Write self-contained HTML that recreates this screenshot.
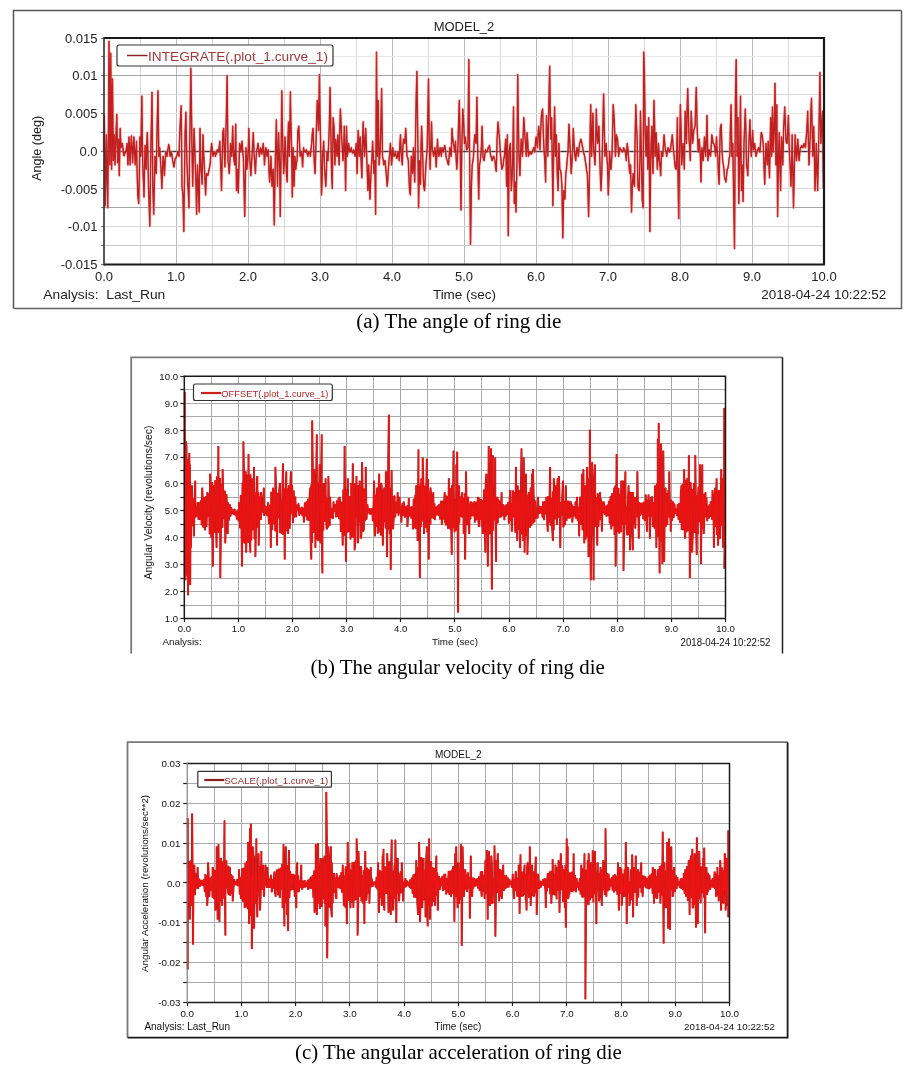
<!DOCTYPE html><html><head><meta charset="utf-8"><title>Ring die plots</title><style>html,body{margin:0;padding:0;background:#fff;width:916px;height:1081px;overflow:hidden}</style></head><body>
<svg width="916" height="1081" viewBox="0 0 916 1081" style="display:block">
<rect width="916" height="1081" fill="#fff"/>
<path d="M13.5,308.5 V10.5 H901.5" fill="none" stroke="#555" stroke-width="1.5"/>
<path d="M901.5,10.5 V308.5 H13.5" fill="none" stroke="#606060" stroke-width="1.5"/>
<line x1="140.5" y1="38" x2="140.5" y2="264.5" stroke="#d8d8d8" stroke-width="1"/>
<line x1="176.5" y1="38" x2="176.5" y2="264.5" stroke="#bcbcbc" stroke-width="1"/>
<line x1="212.5" y1="38" x2="212.5" y2="264.5" stroke="#d8d8d8" stroke-width="1"/>
<line x1="248.5" y1="38" x2="248.5" y2="264.5" stroke="#bcbcbc" stroke-width="1"/>
<line x1="284.5" y1="38" x2="284.5" y2="264.5" stroke="#d8d8d8" stroke-width="1"/>
<line x1="320.5" y1="38" x2="320.5" y2="264.5" stroke="#bcbcbc" stroke-width="1"/>
<line x1="356.5" y1="38" x2="356.5" y2="264.5" stroke="#d8d8d8" stroke-width="1"/>
<line x1="392.5" y1="38" x2="392.5" y2="264.5" stroke="#bcbcbc" stroke-width="1"/>
<line x1="428.5" y1="38" x2="428.5" y2="264.5" stroke="#d8d8d8" stroke-width="1"/>
<line x1="464.5" y1="38" x2="464.5" y2="264.5" stroke="#bcbcbc" stroke-width="1"/>
<line x1="500.5" y1="38" x2="500.5" y2="264.5" stroke="#d8d8d8" stroke-width="1"/>
<line x1="536.5" y1="38" x2="536.5" y2="264.5" stroke="#bcbcbc" stroke-width="1"/>
<line x1="572.5" y1="38" x2="572.5" y2="264.5" stroke="#d8d8d8" stroke-width="1"/>
<line x1="608.5" y1="38" x2="608.5" y2="264.5" stroke="#bcbcbc" stroke-width="1"/>
<line x1="644.5" y1="38" x2="644.5" y2="264.5" stroke="#d8d8d8" stroke-width="1"/>
<line x1="680.5" y1="38" x2="680.5" y2="264.5" stroke="#bcbcbc" stroke-width="1"/>
<line x1="716.5" y1="38" x2="716.5" y2="264.5" stroke="#d8d8d8" stroke-width="1"/>
<line x1="752.5" y1="38" x2="752.5" y2="264.5" stroke="#bcbcbc" stroke-width="1"/>
<line x1="788.5" y1="38" x2="788.5" y2="264.5" stroke="#d8d8d8" stroke-width="1"/>
<line x1="104" y1="245.5" x2="824" y2="245.5" stroke="#c8c8c8" stroke-width="1"/>
<line x1="104" y1="226.5" x2="824" y2="226.5" stroke="#d8d8d8" stroke-width="1"/>
<line x1="104" y1="207.5" x2="824" y2="207.5" stroke="#a4a4a4" stroke-width="1"/>
<line x1="104" y1="188.5" x2="824" y2="188.5" stroke="#dcdcdc" stroke-width="1"/>
<line x1="104" y1="170.5" x2="824" y2="170.5" stroke="#e4e4e4" stroke-width="1"/>
<line x1="104" y1="151.5" x2="824" y2="151.5" stroke="#888" stroke-width="1"/>
<line x1="104" y1="132.5" x2="824" y2="132.5" stroke="#e8e8e8" stroke-width="1"/>
<line x1="104" y1="113.5" x2="824" y2="113.5" stroke="#e4e4e4" stroke-width="1"/>
<line x1="104" y1="94.5" x2="824" y2="94.5" stroke="#d8d8d8" stroke-width="1"/>
<line x1="104" y1="75.5" x2="824" y2="75.5" stroke="#a4a4a4" stroke-width="1"/>
<line x1="104" y1="56.5" x2="824" y2="56.5" stroke="#e8e8e8" stroke-width="1"/>
<line x1="104" y1="151.5" x2="824" y2="151.5" stroke="#3a3a3a" stroke-width="1.3"/>
<path d="M103.9,152.0 L104.3,115.5 L105.2,205.7 L105.8,172.7 L106.4,134.8 L107.1,179.2 L107.7,207.8 L108.4,136.3 L109.0,41.4 L109.9,164.9 L110.7,53.2 L111.6,169.2 L112.5,79.0 L113.3,160.6 L114.2,134.8 L115.0,164.9 L115.9,136.9 L116.8,114.4 L117.6,162.7 L118.5,139.1 L119.3,175.6 L120.2,128.4 L121.0,147.7 L121.7,144.6 L122.3,143.4 L123.0,148.2 L123.6,155.2 L124.2,155.6 L124.8,152.3 L125.3,153.1 L125.9,151.3 L126.5,148.0 L127.1,143.4 L127.9,164.9 L128.5,150.6 L129.0,136.9 L129.5,149.1 L130.1,164.9 L130.7,148.3 L131.4,135.9 L132.0,147.1 L132.6,162.7 L133.3,149.4 L133.9,136.9 L134.6,150.9 L135.2,164.9 L135.9,153.5 L136.5,141.2 L137.2,175.7 L137.8,194.9 L138.7,203.5 L139.3,175.6 L139.9,136.9 L140.8,156.3 L141.3,128.3 L141.9,96.1 L142.4,145.0 L143.0,173.5 L143.5,183.0 L144.0,197.1 L144.6,166.3 L145.1,145.5 L145.6,158.3 L146.2,169.2 L146.7,145.8 L147.3,132.6 L147.9,152.4 L148.5,186.3 L149.2,206.4 L149.8,226.1 L150.4,184.0 L150.9,143.4 L151.4,123.9 L152.0,92.3 L152.8,186.3 L153.7,214.3 L154.3,187.4 L155.0,156.3 L155.6,165.0 L156.3,173.5 L157.1,126.2 L158.0,90.8 L158.8,156.3 L159.7,147.7 L160.4,158.4 L161.0,169.2 L161.9,188.5 L162.5,169.8 L163.1,156.3 L163.8,162.5 L164.4,175.6 L165.1,161.3 L165.7,152.0 L166.4,154.8 L167.0,156.3 L167.6,150.8 L168.2,147.7 L168.7,144.5 L169.4,147.8 L170.0,156.3 L170.7,155.3 L171.3,152.0 L172.0,154.7 L172.6,160.6 L173.1,161.8 L173.6,166.4 L174.1,167.0 L174.6,162.8 L175.2,158.4 L175.8,158.4 L176.5,156.3 L177.1,154.6 L177.7,152.0 L178.4,155.0 L179.0,156.3 L179.7,134.7 L180.3,121.9 L181.2,105.8 L182.0,186.3 L182.9,194.9 L183.8,231.4 L184.4,183.1 L185.1,132.6 L185.9,112.2 L186.4,138.7 L187.0,164.9 L187.1,164.9 L187.7,183.9 L188.3,191.7 L188.9,207.8 L189.7,143.4 L190.3,107.8 L190.8,68.2 L191.3,96.8 L191.9,143.4 L192.7,186.3 L193.4,155.5 L194.0,128.4 L194.7,144.6 L195.3,164.9 L196.0,184.6 L196.6,214.3 L197.5,164.9 L198.3,186.3 L199.2,212.1 L200.0,128.4 L200.6,152.6 L201.1,169.2 L201.6,176.0 L202.2,184.2 L203.0,134.8 L203.7,154.4 L204.3,164.9 L205.0,180.8 L205.6,194.9 L206.5,173.5 L207.1,174.8 L207.8,175.6 L208.4,172.9 L209.1,169.2 L209.7,166.6 L210.3,162.7 L211.0,150.6 L211.6,143.4 L212.3,149.5 L212.9,156.3 L213.6,153.2 L214.2,152.0 L214.9,153.8 L215.5,156.3 L216.1,152.5 L216.6,153.8 L217.2,149.8 L217.9,150.1 L218.5,152.0 L219.1,147.5 L219.8,141.2 L220.7,164.9 L221.5,190.6 L222.2,158.4 L222.8,132.6 L223.7,128.4 L224.3,152.1 L224.9,167.0 L225.8,136.9 L226.5,109.1 L227.1,75.7 L228.0,160.6 L228.6,165.0 L229.2,173.5 L229.9,161.7 L230.5,143.4 L231.2,152.3 L231.8,156.3 L232.7,126.2 L233.3,147.7 L234.0,160.6 L234.8,164.9 L235.7,124.1 L236.5,190.6 L237.4,169.2 L238.3,192.8 L238.9,169.1 L239.6,143.4 L240.2,146.1 L240.8,152.0 L241.5,145.1 L242.1,141.2 L242.8,152.6 L243.4,158.4 L244.1,188.3 L244.7,216.4 L245.4,176.0 L246.0,147.7 L246.9,169.2 L247.7,160.6 L248.3,148.4 L248.8,128.4 L249.3,145.9 L249.9,160.6 L250.4,168.5 L250.9,175.6 L251.5,165.1 L252.0,156.3 L252.7,143.7 L253.3,132.6 L254.2,156.3 L254.8,163.2 L255.4,173.5 L256.1,157.9 L256.7,149.8 L257.4,148.1 L258.0,143.4 L258.7,149.7 L259.3,156.3 L260.0,152.2 L260.6,147.7 L261.2,150.2 L261.9,154.1 L262.5,150.0 L263.2,143.4 L263.8,150.5 L264.5,164.9 L265.1,155.4 L265.8,147.7 L266.4,149.9 L267.0,156.3 L267.7,151.6 L268.3,149.8 L269.0,170.7 L269.6,182.0 L270.3,170.5 L270.9,156.3 L271.4,170.6 L272.0,186.3 L272.1,175.6 L272.7,172.5 L273.2,169.2 L273.8,203.0 L274.3,225.0 L274.8,187.7 L275.4,156.3 L275.9,139.0 L276.4,119.8 L277.0,156.4 L277.5,186.3 L278.1,157.3 L278.6,132.6 L279.1,149.0 L279.7,164.9 L280.3,216.4 L281.2,143.4 L281.8,90.8 L282.3,123.5 L282.9,147.7 L283.7,173.5 L284.4,159.8 L285.0,136.9 L285.6,147.7 L286.1,164.9 L286.6,176.3 L287.2,182.0 L287.8,143.7 L288.5,121.9 L289.3,156.3 L289.9,128.6 L290.4,91.8 L290.9,122.2 L291.5,143.4 L292.3,197.1 L293.2,147.7 L294.1,186.3 L294.9,156.3 L295.8,169.2 L296.4,163.2 L297.1,160.6 L297.9,130.5 L298.8,126.2 L299.4,140.5 L300.1,156.3 L300.7,155.2 L301.4,152.0 L302.0,156.6 L302.6,167.0 L303.5,147.7 L304.1,150.3 L304.8,152.0 L305.4,152.1 L305.9,150.6 L306.5,149.8 L307.2,153.9 L307.8,156.3 L308.4,153.2 L309.1,152.0 L309.7,153.1 L310.4,156.3 L311.0,149.1 L311.7,143.4 L312.3,133.9 L313.0,128.4 L313.5,140.9 L314.0,156.3 L314.6,167.8 L315.1,173.5 L315.6,156.0 L316.2,136.9 L316.7,116.9 L317.3,100.4 L317.9,113.3 L318.5,130.5 L319.4,74.7 L319.9,113.6 L320.5,136.9 L321.0,165.0 L321.5,194.9 L322.1,181.2 L322.6,156.3 L323.2,148.9 L323.7,141.2 L324.6,169.2 L325.2,177.9 L325.8,186.3 L326.4,173.4 L326.9,152.0 L327.5,157.4 L328.0,160.6 L328.6,144.2 L329.3,126.2 L330.1,87.5 L330.7,120.5 L331.2,156.3 L331.7,176.2 L332.3,188.5 L333.1,117.6 L334.0,126.2 L334.9,164.9 L335.7,139.1 L336.4,147.1 L337.0,156.3 L337.9,134.8 L338.5,153.9 L339.2,164.9 L339.8,130.1 L340.4,109.0 L341.1,123.4 L341.7,139.1 L342.4,150.0 L343.0,160.6 L343.7,148.2 L344.3,126.2 L345.0,154.0 L345.6,190.6 L346.5,126.2 L347.3,156.3 L348.0,151.5 L348.6,143.4 L349.3,148.5 L349.9,152.0 L350.5,150.6 L351.2,147.7 L351.8,150.8 L352.5,153.1 L353.1,152.9 L353.8,149.8 L354.4,152.4 L355.1,156.3 L355.7,149.3 L356.3,143.4 L357.1,173.5 L357.7,148.2 L358.2,130.5 L358.8,139.5 L359.3,156.3 L359.8,144.6 L360.4,136.9 L360.9,155.6 L361.4,168.3 L361.9,177.8 L362.5,143.7 L363.2,121.9 L363.8,140.2 L364.5,156.3 L365.1,142.1 L365.7,128.4 L366.4,147.7 L367.0,164.9 L367.9,190.6 L368.7,164.9 L369.4,183.7 L370.0,199.2 L370.7,181.2 L371.3,167.0 L372.0,158.1 L372.6,141.2 L373.3,157.0 L373.9,173.5 L374.8,160.6 L375.6,214.3 L376.5,52.1 L377.3,156.3 L378.2,100.4 L379.1,164.9 L379.7,157.1 L380.3,147.7 L381.0,120.4 L381.6,88.6 L382.5,156.3 L383.1,159.2 L383.8,164.9 L384.4,161.2 L385.1,160.6 L385.7,167.6 L386.4,175.6 L387.2,186.3 L387.8,179.5 L388.3,169.2 L388.8,164.4 L389.4,156.3 L389.9,151.1 L390.4,143.4 L391.0,151.2 L391.5,164.9 L392.2,159.0 L392.8,147.7 L393.4,153.3 L394.1,156.3 L394.7,155.4 L395.4,152.0 L396.0,155.3 L396.7,158.4 L397.3,156.8 L398.0,152.0 L398.6,154.3 L399.2,160.6 L399.9,143.7 L400.5,134.8 L401.4,156.3 L402.3,164.9 L402.9,147.9 L403.5,139.1 L404.2,140.4 L404.8,143.4 L405.7,128.4 L406.3,140.0 L407.0,156.3 L407.6,157.4 L408.3,160.6 L408.9,176.2 L409.6,190.6 L410.4,194.9 L411.3,156.3 L411.9,161.9 L412.6,173.5 L413.4,147.7 L414.1,165.8 L414.7,182.0 L415.6,134.8 L416.2,97.2 L416.9,71.4 L417.7,130.5 L418.6,207.8 L419.4,160.6 L420.0,173.8 L420.5,184.2 L421.0,147.4 L421.6,126.2 L422.1,139.4 L422.7,156.3 L423.2,175.5 L423.7,186.3 L424.6,190.6 L425.2,178.1 L425.9,164.9 L426.5,158.3 L427.2,147.7 L427.8,116.3 L428.5,79.0 L429.3,143.4 L430.2,169.2 L430.8,147.1 L431.5,121.9 L432.3,149.8 L433.0,151.8 L433.6,156.3 L434.3,152.3 L434.9,147.7 L435.5,154.1 L436.2,167.0 L436.8,155.8 L437.5,139.1 L438.1,150.7 L438.8,156.3 L439.4,153.6 L440.1,147.7 L440.7,150.0 L441.3,156.3 L442.1,147.7 L442.8,149.3 L443.4,152.0 L444.1,148.0 L444.7,145.5 L445.4,149.0 L446.0,156.3 L446.7,158.9 L447.3,160.6 L447.9,163.7 L448.6,164.9 L449.2,155.1 L449.9,147.7 L450.5,153.6 L451.2,156.3 L452.0,128.4 L452.7,137.7 L453.3,143.4 L454.0,146.0 L454.6,152.0 L455.5,141.2 L456.1,157.6 L456.8,169.2 L457.4,159.6 L458.0,143.4 L458.7,118.1 L459.3,100.4 L460.2,147.7 L461.0,210.0 L461.9,143.4 L462.8,109.0 L463.6,121.9 L464.5,143.4 L465.3,136.9 L466.0,143.8 L466.6,149.8 L467.3,149.2 L467.9,147.7 L468.8,59.6 L469.6,154.1 L470.5,244.3 L471.4,186.3 L472.2,164.9 L472.9,161.1 L473.5,156.3 L474.1,142.5 L474.8,134.8 L475.4,139.8 L476.1,143.4 L476.9,97.2 L477.8,156.3 L478.7,199.2 L479.5,164.9 L480.2,161.2 L480.8,156.3 L481.5,144.4 L482.1,126.2 L483.0,156.3 L483.6,159.5 L484.2,160.6 L484.9,154.3 L485.5,149.8 L486.2,151.6 L486.8,152.0 L487.5,151.1 L488.1,147.7 L488.8,147.8 L489.4,145.5 L490.0,149.2 L490.7,156.3 L491.3,156.8 L492.0,160.6 L492.5,159.7 L493.1,156.7 L493.7,156.3 L494.3,158.6 L495.0,160.6 L495.6,168.2 L496.3,171.3 L497.1,139.1 L498.0,121.9 L498.6,128.7 L499.3,136.9 L499.9,144.9 L500.6,156.3 L501.2,162.5 L501.9,169.2 L502.5,167.6 L503.1,164.9 L503.8,158.8 L504.4,156.3 L505.1,146.9 L505.7,139.1 L506.6,186.3 L507.4,134.8 L508.3,235.7 L509.2,152.0 L509.8,146.0 L510.4,143.4 L511.3,190.6 L512.0,179.1 L512.6,164.9 L513.5,106.9 L514.3,203.5 L515.2,182.0 L516.0,212.1 L516.9,164.9 L517.7,74.7 L518.4,122.7 L519.0,156.3 L519.9,175.6 L520.5,156.0 L521.2,139.1 L521.8,146.8 L522.5,156.3 L523.1,137.4 L523.8,117.6 L524.4,126.2 L525.1,139.1 L525.7,146.0 L526.3,156.3 L527.1,132.6 L527.8,143.1 L528.4,156.3 L529.1,154.0 L529.7,152.0 L530.4,151.8 L531.0,154.1 L531.7,153.8 L532.3,152.0 L532.9,150.1 L533.6,147.7 L534.2,149.1 L534.9,152.0 L535.5,141.9 L536.2,136.9 L536.8,143.6 L537.5,147.7 L538.1,134.2 L538.7,126.2 L539.4,135.1 L540.0,149.8 L540.7,130.0 L541.3,117.6 L542.0,111.5 L542.6,109.0 L543.3,133.1 L543.9,147.7 L544.8,160.6 L545.6,182.0 L546.5,115.5 L547.1,133.1 L547.8,156.3 L548.6,117.6 L549.2,89.0 L549.7,66.1 L550.2,109.2 L550.8,139.1 L551.6,117.6 L552.3,164.5 L552.9,205.7 L553.8,143.4 L554.6,106.9 L555.5,156.3 L556.4,134.8 L557.2,173.5 L558.1,190.6 L558.9,143.4 L559.8,169.2 L560.4,170.2 L561.1,173.5 L561.9,186.3 L562.8,237.9 L563.7,190.6 L564.3,194.6 L564.9,199.2 L565.8,173.5 L566.5,169.1 L567.1,160.6 L568.0,152.0 L568.5,136.9 L569.0,124.1 L569.6,137.6 L570.1,147.7 L570.6,157.1 L571.2,173.5 L571.7,166.3 L572.3,156.3 L572.8,144.8 L573.3,128.4 L573.9,141.6 L574.4,149.8 L575.0,156.1 L575.7,160.6 L576.3,153.4 L577.0,147.7 L577.6,150.0 L578.3,156.3 L578.9,149.9 L579.6,143.4 L580.2,142.1 L580.8,139.1 L581.5,141.1 L582.1,145.5 L582.8,147.8 L583.4,152.0 L584.1,154.3 L584.7,156.3 L585.4,161.7 L586.0,164.9 L586.6,170.9 L587.3,173.5 L587.9,190.2 L588.6,216.4 L589.4,177.8 L590.1,134.9 L590.7,104.7 L591.6,156.3 L592.2,138.6 L592.9,113.3 L593.7,147.7 L594.4,157.2 L595.0,164.9 L595.7,140.4 L596.3,109.0 L597.0,131.5 L597.6,143.4 L598.2,137.7 L598.9,126.2 L599.7,156.3 L600.4,177.1 L601.0,190.6 L601.7,174.5 L602.3,152.0 L603.0,121.3 L603.6,94.0 L604.3,127.6 L604.9,156.3 L605.5,148.1 L606.2,143.4 L606.8,156.1 L607.5,164.9 L608.3,194.9 L609.0,176.7 L609.6,152.0 L610.3,162.0 L610.9,169.2 L611.1,169.2 L611.6,160.2 L612.1,152.0 L612.7,126.7 L613.2,104.7 L613.8,112.8 L614.3,121.9 L614.8,134.1 L615.4,156.3 L615.9,148.1 L616.4,134.8 L617.0,137.1 L617.5,139.1 L618.1,147.0 L618.6,156.3 L619.2,152.2 L619.9,147.7 L620.5,149.4 L621.2,149.8 L621.8,150.6 L622.5,152.0 L623.1,151.0 L623.7,147.7 L624.4,150.0 L625.0,149.8 L625.7,154.6 L626.3,160.6 L627.2,143.4 L627.8,147.8 L628.5,156.3 L629.1,166.6 L629.8,173.5 L630.6,164.9 L631.5,212.1 L632.3,186.3 L633.2,173.5 L633.8,182.6 L634.5,186.3 L635.1,137.8 L635.8,104.7 L636.4,123.0 L637.1,136.9 L637.9,186.3 L638.6,189.6 L639.2,190.6 L639.9,159.9 L640.5,111.2 L641.4,156.3 L642.2,199.2 L643.1,207.8 L643.7,52.1 L644.4,72.5 L645.2,132.6 L646.1,156.3 L646.9,126.2 L647.8,169.2 L648.7,117.6 L649.3,163.3 L649.9,231.4 L650.8,156.3 L651.3,137.3 L651.9,126.2 L652.4,156.5 L653.0,173.5 L653.5,129.3 L654.0,100.4 L654.6,123.2 L655.1,156.3 L655.6,145.1 L656.2,132.6 L656.7,150.3 L657.3,169.2 L657.9,158.4 L658.5,143.4 L659.4,160.6 L660.0,166.2 L660.7,175.6 L661.5,152.0 L662.2,155.5 L662.8,156.3 L663.5,143.4 L664.1,134.8 L664.8,143.9 L665.4,149.8 L666.1,151.3 L666.7,156.3 L667.3,151.9 L668.0,147.7 L668.6,148.2 L669.3,152.0 L669.9,150.4 L670.6,149.8 L671.1,143.7 L671.7,141.1 L672.3,134.8 L672.9,143.1 L673.6,152.0 L674.2,156.0 L674.9,164.9 L675.5,168.7 L676.2,169.2 L676.8,149.1 L677.4,117.6 L678.1,179.2 L678.7,218.6 L679.6,152.0 L680.4,104.7 L681.1,130.5 L681.7,164.9 L682.4,153.3 L683.0,143.4 L683.7,153.9 L684.3,169.2 L685.2,111.2 L685.8,123.5 L686.5,143.4 L687.1,108.7 L687.7,88.6 L688.4,113.9 L689.0,139.1 L689.7,147.0 L690.3,160.6 L691.2,111.2 L691.8,124.0 L692.5,143.4 L693.1,138.9 L693.8,130.5 L694.4,128.3 L695.1,126.2 L695.7,103.2 L696.3,87.5 L697.1,126.2 L697.7,140.6 L698.2,152.0 L698.8,144.3 L699.3,139.1 L699.8,147.9 L700.4,156.3 L701.0,182.0 L701.9,147.7 L702.5,152.9 L703.2,160.6 L703.8,148.9 L704.5,136.9 L705.1,147.5 L705.7,156.3 L706.4,136.3 L707.0,115.5 L707.9,160.6 L708.5,154.7 L709.2,149.8 L709.8,154.2 L710.5,156.3 L711.1,148.4 L711.8,134.8 L712.4,137.7 L713.0,143.4 L713.7,143.4 L714.3,145.5 L715.0,149.0 L715.6,156.3 L716.5,136.9 L717.1,150.0 L717.8,156.3 L718.4,174.3 L719.1,184.2 L719.7,152.0 L720.3,128.4 L721.2,124.1 L722.1,152.0 L722.7,161.0 L723.4,164.9 L724.0,169.7 L724.6,177.8 L725.3,179.9 L725.9,182.0 L726.6,175.6 L727.2,169.2 L727.9,168.4 L728.5,164.9 L729.1,158.5 L729.8,156.3 L730.4,127.8 L731.1,104.7 L731.9,156.3 L732.8,143.4 L733.7,199.2 L734.5,248.6 L735.4,100.4 L736.2,59.6 L737.1,156.3 L738.0,117.6 L738.8,203.5 L739.7,156.3 L740.5,96.1 L741.4,190.6 L742.3,164.9 L743.1,201.4 L744.0,143.4 L744.6,127.3 L745.3,109.0 L745.9,130.1 L746.5,164.9 L747.2,168.9 L747.8,175.6 L748.7,147.7 L749.3,133.4 L750.0,119.8 L750.6,142.3 L751.3,156.3 L751.9,145.6 L752.6,130.5 L753.4,149.8 L754.1,147.9 L754.7,143.4 L755.4,151.3 L756.0,156.3 L756.6,153.9 L757.3,149.8 L757.9,149.8 L758.6,147.7 L759.2,150.5 L759.9,152.0 L760.5,144.0 L761.2,132.6 L761.6,133.1 L762.1,134.8 L762.8,139.4 L763.4,147.7 L764.1,168.8 L764.7,184.2 L765.4,159.7 L766.0,143.4 L766.7,157.3 L767.3,164.9 L768.2,141.2 L768.8,160.6 L769.5,177.8 L770.1,144.8 L770.7,117.6 L771.6,156.3 L772.5,106.9 L773.3,152.0 L774.2,128.4 L775.0,83.3 L775.9,164.9 L776.8,104.7 L777.6,216.4 L778.5,156.3 L779.3,132.6 L780.0,168.8 L780.6,190.6 L781.5,136.9 L782.1,147.8 L782.8,164.9 L783.6,128.4 L784.2,117.7 L784.7,106.9 L785.2,118.8 L785.8,139.1 L786.4,142.8 L787.1,143.4 L787.7,130.1 L788.4,115.5 L789.0,139.6 L789.6,156.3 L790.3,169.2 L790.9,186.3 L791.6,165.0 L792.2,134.8 L792.9,175.4 L793.5,207.8 L794.4,164.9 L795.2,134.8 L795.9,148.9 L796.5,160.6 L797.2,153.2 L797.8,139.1 L798.4,149.3 L799.1,160.6 L799.7,153.7 L800.4,147.7 L801.0,147.2 L801.7,145.5 L802.3,147.6 L803.0,147.7 L803.6,145.0 L804.2,143.4 L804.9,146.1 L805.5,147.7 L806.2,137.2 L806.8,130.5 L807.7,111.2 L808.3,138.8 L809.0,164.9 L809.6,151.5 L810.3,132.6 L810.9,110.8 L811.5,98.3 L812.2,131.0 L812.8,156.3 L813.7,126.2 L814.3,149.8 L815.0,190.6 L815.6,173.3 L816.3,143.4 L816.9,166.6 L817.6,190.6 L818.4,156.3 L819.3,111.2 L819.9,72.5 L820.8,143.4 L821.6,126.2 L822.5,111.2 L823.4,188.5" fill="none" stroke="#f4a8a8" stroke-width="3.2" stroke-linejoin="round" opacity="0.5"/><path d="M103.9,152.0 L104.3,115.5 L105.2,205.7 L105.8,172.7 L106.4,134.8 L107.1,179.2 L107.7,207.8 L108.4,136.3 L109.0,41.4 L109.9,164.9 L110.7,53.2 L111.6,169.2 L112.5,79.0 L113.3,160.6 L114.2,134.8 L115.0,164.9 L115.9,136.9 L116.8,114.4 L117.6,162.7 L118.5,139.1 L119.3,175.6 L120.2,128.4 L121.0,147.7 L121.7,144.6 L122.3,143.4 L123.0,148.2 L123.6,155.2 L124.2,155.6 L124.8,152.3 L125.3,153.1 L125.9,151.3 L126.5,148.0 L127.1,143.4 L127.9,164.9 L128.5,150.6 L129.0,136.9 L129.5,149.1 L130.1,164.9 L130.7,148.3 L131.4,135.9 L132.0,147.1 L132.6,162.7 L133.3,149.4 L133.9,136.9 L134.6,150.9 L135.2,164.9 L135.9,153.5 L136.5,141.2 L137.2,175.7 L137.8,194.9 L138.7,203.5 L139.3,175.6 L139.9,136.9 L140.8,156.3 L141.3,128.3 L141.9,96.1 L142.4,145.0 L143.0,173.5 L143.5,183.0 L144.0,197.1 L144.6,166.3 L145.1,145.5 L145.6,158.3 L146.2,169.2 L146.7,145.8 L147.3,132.6 L147.9,152.4 L148.5,186.3 L149.2,206.4 L149.8,226.1 L150.4,184.0 L150.9,143.4 L151.4,123.9 L152.0,92.3 L152.8,186.3 L153.7,214.3 L154.3,187.4 L155.0,156.3 L155.6,165.0 L156.3,173.5 L157.1,126.2 L158.0,90.8 L158.8,156.3 L159.7,147.7 L160.4,158.4 L161.0,169.2 L161.9,188.5 L162.5,169.8 L163.1,156.3 L163.8,162.5 L164.4,175.6 L165.1,161.3 L165.7,152.0 L166.4,154.8 L167.0,156.3 L167.6,150.8 L168.2,147.7 L168.7,144.5 L169.4,147.8 L170.0,156.3 L170.7,155.3 L171.3,152.0 L172.0,154.7 L172.6,160.6 L173.1,161.8 L173.6,166.4 L174.1,167.0 L174.6,162.8 L175.2,158.4 L175.8,158.4 L176.5,156.3 L177.1,154.6 L177.7,152.0 L178.4,155.0 L179.0,156.3 L179.7,134.7 L180.3,121.9 L181.2,105.8 L182.0,186.3 L182.9,194.9 L183.8,231.4 L184.4,183.1 L185.1,132.6 L185.9,112.2 L186.4,138.7 L187.0,164.9 L187.1,164.9 L187.7,183.9 L188.3,191.7 L188.9,207.8 L189.7,143.4 L190.3,107.8 L190.8,68.2 L191.3,96.8 L191.9,143.4 L192.7,186.3 L193.4,155.5 L194.0,128.4 L194.7,144.6 L195.3,164.9 L196.0,184.6 L196.6,214.3 L197.5,164.9 L198.3,186.3 L199.2,212.1 L200.0,128.4 L200.6,152.6 L201.1,169.2 L201.6,176.0 L202.2,184.2 L203.0,134.8 L203.7,154.4 L204.3,164.9 L205.0,180.8 L205.6,194.9 L206.5,173.5 L207.1,174.8 L207.8,175.6 L208.4,172.9 L209.1,169.2 L209.7,166.6 L210.3,162.7 L211.0,150.6 L211.6,143.4 L212.3,149.5 L212.9,156.3 L213.6,153.2 L214.2,152.0 L214.9,153.8 L215.5,156.3 L216.1,152.5 L216.6,153.8 L217.2,149.8 L217.9,150.1 L218.5,152.0 L219.1,147.5 L219.8,141.2 L220.7,164.9 L221.5,190.6 L222.2,158.4 L222.8,132.6 L223.7,128.4 L224.3,152.1 L224.9,167.0 L225.8,136.9 L226.5,109.1 L227.1,75.7 L228.0,160.6 L228.6,165.0 L229.2,173.5 L229.9,161.7 L230.5,143.4 L231.2,152.3 L231.8,156.3 L232.7,126.2 L233.3,147.7 L234.0,160.6 L234.8,164.9 L235.7,124.1 L236.5,190.6 L237.4,169.2 L238.3,192.8 L238.9,169.1 L239.6,143.4 L240.2,146.1 L240.8,152.0 L241.5,145.1 L242.1,141.2 L242.8,152.6 L243.4,158.4 L244.1,188.3 L244.7,216.4 L245.4,176.0 L246.0,147.7 L246.9,169.2 L247.7,160.6 L248.3,148.4 L248.8,128.4 L249.3,145.9 L249.9,160.6 L250.4,168.5 L250.9,175.6 L251.5,165.1 L252.0,156.3 L252.7,143.7 L253.3,132.6 L254.2,156.3 L254.8,163.2 L255.4,173.5 L256.1,157.9 L256.7,149.8 L257.4,148.1 L258.0,143.4 L258.7,149.7 L259.3,156.3 L260.0,152.2 L260.6,147.7 L261.2,150.2 L261.9,154.1 L262.5,150.0 L263.2,143.4 L263.8,150.5 L264.5,164.9 L265.1,155.4 L265.8,147.7 L266.4,149.9 L267.0,156.3 L267.7,151.6 L268.3,149.8 L269.0,170.7 L269.6,182.0 L270.3,170.5 L270.9,156.3 L271.4,170.6 L272.0,186.3 L272.1,175.6 L272.7,172.5 L273.2,169.2 L273.8,203.0 L274.3,225.0 L274.8,187.7 L275.4,156.3 L275.9,139.0 L276.4,119.8 L277.0,156.4 L277.5,186.3 L278.1,157.3 L278.6,132.6 L279.1,149.0 L279.7,164.9 L280.3,216.4 L281.2,143.4 L281.8,90.8 L282.3,123.5 L282.9,147.7 L283.7,173.5 L284.4,159.8 L285.0,136.9 L285.6,147.7 L286.1,164.9 L286.6,176.3 L287.2,182.0 L287.8,143.7 L288.5,121.9 L289.3,156.3 L289.9,128.6 L290.4,91.8 L290.9,122.2 L291.5,143.4 L292.3,197.1 L293.2,147.7 L294.1,186.3 L294.9,156.3 L295.8,169.2 L296.4,163.2 L297.1,160.6 L297.9,130.5 L298.8,126.2 L299.4,140.5 L300.1,156.3 L300.7,155.2 L301.4,152.0 L302.0,156.6 L302.6,167.0 L303.5,147.7 L304.1,150.3 L304.8,152.0 L305.4,152.1 L305.9,150.6 L306.5,149.8 L307.2,153.9 L307.8,156.3 L308.4,153.2 L309.1,152.0 L309.7,153.1 L310.4,156.3 L311.0,149.1 L311.7,143.4 L312.3,133.9 L313.0,128.4 L313.5,140.9 L314.0,156.3 L314.6,167.8 L315.1,173.5 L315.6,156.0 L316.2,136.9 L316.7,116.9 L317.3,100.4 L317.9,113.3 L318.5,130.5 L319.4,74.7 L319.9,113.6 L320.5,136.9 L321.0,165.0 L321.5,194.9 L322.1,181.2 L322.6,156.3 L323.2,148.9 L323.7,141.2 L324.6,169.2 L325.2,177.9 L325.8,186.3 L326.4,173.4 L326.9,152.0 L327.5,157.4 L328.0,160.6 L328.6,144.2 L329.3,126.2 L330.1,87.5 L330.7,120.5 L331.2,156.3 L331.7,176.2 L332.3,188.5 L333.1,117.6 L334.0,126.2 L334.9,164.9 L335.7,139.1 L336.4,147.1 L337.0,156.3 L337.9,134.8 L338.5,153.9 L339.2,164.9 L339.8,130.1 L340.4,109.0 L341.1,123.4 L341.7,139.1 L342.4,150.0 L343.0,160.6 L343.7,148.2 L344.3,126.2 L345.0,154.0 L345.6,190.6 L346.5,126.2 L347.3,156.3 L348.0,151.5 L348.6,143.4 L349.3,148.5 L349.9,152.0 L350.5,150.6 L351.2,147.7 L351.8,150.8 L352.5,153.1 L353.1,152.9 L353.8,149.8 L354.4,152.4 L355.1,156.3 L355.7,149.3 L356.3,143.4 L357.1,173.5 L357.7,148.2 L358.2,130.5 L358.8,139.5 L359.3,156.3 L359.8,144.6 L360.4,136.9 L360.9,155.6 L361.4,168.3 L361.9,177.8 L362.5,143.7 L363.2,121.9 L363.8,140.2 L364.5,156.3 L365.1,142.1 L365.7,128.4 L366.4,147.7 L367.0,164.9 L367.9,190.6 L368.7,164.9 L369.4,183.7 L370.0,199.2 L370.7,181.2 L371.3,167.0 L372.0,158.1 L372.6,141.2 L373.3,157.0 L373.9,173.5 L374.8,160.6 L375.6,214.3 L376.5,52.1 L377.3,156.3 L378.2,100.4 L379.1,164.9 L379.7,157.1 L380.3,147.7 L381.0,120.4 L381.6,88.6 L382.5,156.3 L383.1,159.2 L383.8,164.9 L384.4,161.2 L385.1,160.6 L385.7,167.6 L386.4,175.6 L387.2,186.3 L387.8,179.5 L388.3,169.2 L388.8,164.4 L389.4,156.3 L389.9,151.1 L390.4,143.4 L391.0,151.2 L391.5,164.9 L392.2,159.0 L392.8,147.7 L393.4,153.3 L394.1,156.3 L394.7,155.4 L395.4,152.0 L396.0,155.3 L396.7,158.4 L397.3,156.8 L398.0,152.0 L398.6,154.3 L399.2,160.6 L399.9,143.7 L400.5,134.8 L401.4,156.3 L402.3,164.9 L402.9,147.9 L403.5,139.1 L404.2,140.4 L404.8,143.4 L405.7,128.4 L406.3,140.0 L407.0,156.3 L407.6,157.4 L408.3,160.6 L408.9,176.2 L409.6,190.6 L410.4,194.9 L411.3,156.3 L411.9,161.9 L412.6,173.5 L413.4,147.7 L414.1,165.8 L414.7,182.0 L415.6,134.8 L416.2,97.2 L416.9,71.4 L417.7,130.5 L418.6,207.8 L419.4,160.6 L420.0,173.8 L420.5,184.2 L421.0,147.4 L421.6,126.2 L422.1,139.4 L422.7,156.3 L423.2,175.5 L423.7,186.3 L424.6,190.6 L425.2,178.1 L425.9,164.9 L426.5,158.3 L427.2,147.7 L427.8,116.3 L428.5,79.0 L429.3,143.4 L430.2,169.2 L430.8,147.1 L431.5,121.9 L432.3,149.8 L433.0,151.8 L433.6,156.3 L434.3,152.3 L434.9,147.7 L435.5,154.1 L436.2,167.0 L436.8,155.8 L437.5,139.1 L438.1,150.7 L438.8,156.3 L439.4,153.6 L440.1,147.7 L440.7,150.0 L441.3,156.3 L442.1,147.7 L442.8,149.3 L443.4,152.0 L444.1,148.0 L444.7,145.5 L445.4,149.0 L446.0,156.3 L446.7,158.9 L447.3,160.6 L447.9,163.7 L448.6,164.9 L449.2,155.1 L449.9,147.7 L450.5,153.6 L451.2,156.3 L452.0,128.4 L452.7,137.7 L453.3,143.4 L454.0,146.0 L454.6,152.0 L455.5,141.2 L456.1,157.6 L456.8,169.2 L457.4,159.6 L458.0,143.4 L458.7,118.1 L459.3,100.4 L460.2,147.7 L461.0,210.0 L461.9,143.4 L462.8,109.0 L463.6,121.9 L464.5,143.4 L465.3,136.9 L466.0,143.8 L466.6,149.8 L467.3,149.2 L467.9,147.7 L468.8,59.6 L469.6,154.1 L470.5,244.3 L471.4,186.3 L472.2,164.9 L472.9,161.1 L473.5,156.3 L474.1,142.5 L474.8,134.8 L475.4,139.8 L476.1,143.4 L476.9,97.2 L477.8,156.3 L478.7,199.2 L479.5,164.9 L480.2,161.2 L480.8,156.3 L481.5,144.4 L482.1,126.2 L483.0,156.3 L483.6,159.5 L484.2,160.6 L484.9,154.3 L485.5,149.8 L486.2,151.6 L486.8,152.0 L487.5,151.1 L488.1,147.7 L488.8,147.8 L489.4,145.5 L490.0,149.2 L490.7,156.3 L491.3,156.8 L492.0,160.6 L492.5,159.7 L493.1,156.7 L493.7,156.3 L494.3,158.6 L495.0,160.6 L495.6,168.2 L496.3,171.3 L497.1,139.1 L498.0,121.9 L498.6,128.7 L499.3,136.9 L499.9,144.9 L500.6,156.3 L501.2,162.5 L501.9,169.2 L502.5,167.6 L503.1,164.9 L503.8,158.8 L504.4,156.3 L505.1,146.9 L505.7,139.1 L506.6,186.3 L507.4,134.8 L508.3,235.7 L509.2,152.0 L509.8,146.0 L510.4,143.4 L511.3,190.6 L512.0,179.1 L512.6,164.9 L513.5,106.9 L514.3,203.5 L515.2,182.0 L516.0,212.1 L516.9,164.9 L517.7,74.7 L518.4,122.7 L519.0,156.3 L519.9,175.6 L520.5,156.0 L521.2,139.1 L521.8,146.8 L522.5,156.3 L523.1,137.4 L523.8,117.6 L524.4,126.2 L525.1,139.1 L525.7,146.0 L526.3,156.3 L527.1,132.6 L527.8,143.1 L528.4,156.3 L529.1,154.0 L529.7,152.0 L530.4,151.8 L531.0,154.1 L531.7,153.8 L532.3,152.0 L532.9,150.1 L533.6,147.7 L534.2,149.1 L534.9,152.0 L535.5,141.9 L536.2,136.9 L536.8,143.6 L537.5,147.7 L538.1,134.2 L538.7,126.2 L539.4,135.1 L540.0,149.8 L540.7,130.0 L541.3,117.6 L542.0,111.5 L542.6,109.0 L543.3,133.1 L543.9,147.7 L544.8,160.6 L545.6,182.0 L546.5,115.5 L547.1,133.1 L547.8,156.3 L548.6,117.6 L549.2,89.0 L549.7,66.1 L550.2,109.2 L550.8,139.1 L551.6,117.6 L552.3,164.5 L552.9,205.7 L553.8,143.4 L554.6,106.9 L555.5,156.3 L556.4,134.8 L557.2,173.5 L558.1,190.6 L558.9,143.4 L559.8,169.2 L560.4,170.2 L561.1,173.5 L561.9,186.3 L562.8,237.9 L563.7,190.6 L564.3,194.6 L564.9,199.2 L565.8,173.5 L566.5,169.1 L567.1,160.6 L568.0,152.0 L568.5,136.9 L569.0,124.1 L569.6,137.6 L570.1,147.7 L570.6,157.1 L571.2,173.5 L571.7,166.3 L572.3,156.3 L572.8,144.8 L573.3,128.4 L573.9,141.6 L574.4,149.8 L575.0,156.1 L575.7,160.6 L576.3,153.4 L577.0,147.7 L577.6,150.0 L578.3,156.3 L578.9,149.9 L579.6,143.4 L580.2,142.1 L580.8,139.1 L581.5,141.1 L582.1,145.5 L582.8,147.8 L583.4,152.0 L584.1,154.3 L584.7,156.3 L585.4,161.7 L586.0,164.9 L586.6,170.9 L587.3,173.5 L587.9,190.2 L588.6,216.4 L589.4,177.8 L590.1,134.9 L590.7,104.7 L591.6,156.3 L592.2,138.6 L592.9,113.3 L593.7,147.7 L594.4,157.2 L595.0,164.9 L595.7,140.4 L596.3,109.0 L597.0,131.5 L597.6,143.4 L598.2,137.7 L598.9,126.2 L599.7,156.3 L600.4,177.1 L601.0,190.6 L601.7,174.5 L602.3,152.0 L603.0,121.3 L603.6,94.0 L604.3,127.6 L604.9,156.3 L605.5,148.1 L606.2,143.4 L606.8,156.1 L607.5,164.9 L608.3,194.9 L609.0,176.7 L609.6,152.0 L610.3,162.0 L610.9,169.2 L611.1,169.2 L611.6,160.2 L612.1,152.0 L612.7,126.7 L613.2,104.7 L613.8,112.8 L614.3,121.9 L614.8,134.1 L615.4,156.3 L615.9,148.1 L616.4,134.8 L617.0,137.1 L617.5,139.1 L618.1,147.0 L618.6,156.3 L619.2,152.2 L619.9,147.7 L620.5,149.4 L621.2,149.8 L621.8,150.6 L622.5,152.0 L623.1,151.0 L623.7,147.7 L624.4,150.0 L625.0,149.8 L625.7,154.6 L626.3,160.6 L627.2,143.4 L627.8,147.8 L628.5,156.3 L629.1,166.6 L629.8,173.5 L630.6,164.9 L631.5,212.1 L632.3,186.3 L633.2,173.5 L633.8,182.6 L634.5,186.3 L635.1,137.8 L635.8,104.7 L636.4,123.0 L637.1,136.9 L637.9,186.3 L638.6,189.6 L639.2,190.6 L639.9,159.9 L640.5,111.2 L641.4,156.3 L642.2,199.2 L643.1,207.8 L643.7,52.1 L644.4,72.5 L645.2,132.6 L646.1,156.3 L646.9,126.2 L647.8,169.2 L648.7,117.6 L649.3,163.3 L649.9,231.4 L650.8,156.3 L651.3,137.3 L651.9,126.2 L652.4,156.5 L653.0,173.5 L653.5,129.3 L654.0,100.4 L654.6,123.2 L655.1,156.3 L655.6,145.1 L656.2,132.6 L656.7,150.3 L657.3,169.2 L657.9,158.4 L658.5,143.4 L659.4,160.6 L660.0,166.2 L660.7,175.6 L661.5,152.0 L662.2,155.5 L662.8,156.3 L663.5,143.4 L664.1,134.8 L664.8,143.9 L665.4,149.8 L666.1,151.3 L666.7,156.3 L667.3,151.9 L668.0,147.7 L668.6,148.2 L669.3,152.0 L669.9,150.4 L670.6,149.8 L671.1,143.7 L671.7,141.1 L672.3,134.8 L672.9,143.1 L673.6,152.0 L674.2,156.0 L674.9,164.9 L675.5,168.7 L676.2,169.2 L676.8,149.1 L677.4,117.6 L678.1,179.2 L678.7,218.6 L679.6,152.0 L680.4,104.7 L681.1,130.5 L681.7,164.9 L682.4,153.3 L683.0,143.4 L683.7,153.9 L684.3,169.2 L685.2,111.2 L685.8,123.5 L686.5,143.4 L687.1,108.7 L687.7,88.6 L688.4,113.9 L689.0,139.1 L689.7,147.0 L690.3,160.6 L691.2,111.2 L691.8,124.0 L692.5,143.4 L693.1,138.9 L693.8,130.5 L694.4,128.3 L695.1,126.2 L695.7,103.2 L696.3,87.5 L697.1,126.2 L697.7,140.6 L698.2,152.0 L698.8,144.3 L699.3,139.1 L699.8,147.9 L700.4,156.3 L701.0,182.0 L701.9,147.7 L702.5,152.9 L703.2,160.6 L703.8,148.9 L704.5,136.9 L705.1,147.5 L705.7,156.3 L706.4,136.3 L707.0,115.5 L707.9,160.6 L708.5,154.7 L709.2,149.8 L709.8,154.2 L710.5,156.3 L711.1,148.4 L711.8,134.8 L712.4,137.7 L713.0,143.4 L713.7,143.4 L714.3,145.5 L715.0,149.0 L715.6,156.3 L716.5,136.9 L717.1,150.0 L717.8,156.3 L718.4,174.3 L719.1,184.2 L719.7,152.0 L720.3,128.4 L721.2,124.1 L722.1,152.0 L722.7,161.0 L723.4,164.9 L724.0,169.7 L724.6,177.8 L725.3,179.9 L725.9,182.0 L726.6,175.6 L727.2,169.2 L727.9,168.4 L728.5,164.9 L729.1,158.5 L729.8,156.3 L730.4,127.8 L731.1,104.7 L731.9,156.3 L732.8,143.4 L733.7,199.2 L734.5,248.6 L735.4,100.4 L736.2,59.6 L737.1,156.3 L738.0,117.6 L738.8,203.5 L739.7,156.3 L740.5,96.1 L741.4,190.6 L742.3,164.9 L743.1,201.4 L744.0,143.4 L744.6,127.3 L745.3,109.0 L745.9,130.1 L746.5,164.9 L747.2,168.9 L747.8,175.6 L748.7,147.7 L749.3,133.4 L750.0,119.8 L750.6,142.3 L751.3,156.3 L751.9,145.6 L752.6,130.5 L753.4,149.8 L754.1,147.9 L754.7,143.4 L755.4,151.3 L756.0,156.3 L756.6,153.9 L757.3,149.8 L757.9,149.8 L758.6,147.7 L759.2,150.5 L759.9,152.0 L760.5,144.0 L761.2,132.6 L761.6,133.1 L762.1,134.8 L762.8,139.4 L763.4,147.7 L764.1,168.8 L764.7,184.2 L765.4,159.7 L766.0,143.4 L766.7,157.3 L767.3,164.9 L768.2,141.2 L768.8,160.6 L769.5,177.8 L770.1,144.8 L770.7,117.6 L771.6,156.3 L772.5,106.9 L773.3,152.0 L774.2,128.4 L775.0,83.3 L775.9,164.9 L776.8,104.7 L777.6,216.4 L778.5,156.3 L779.3,132.6 L780.0,168.8 L780.6,190.6 L781.5,136.9 L782.1,147.8 L782.8,164.9 L783.6,128.4 L784.2,117.7 L784.7,106.9 L785.2,118.8 L785.8,139.1 L786.4,142.8 L787.1,143.4 L787.7,130.1 L788.4,115.5 L789.0,139.6 L789.6,156.3 L790.3,169.2 L790.9,186.3 L791.6,165.0 L792.2,134.8 L792.9,175.4 L793.5,207.8 L794.4,164.9 L795.2,134.8 L795.9,148.9 L796.5,160.6 L797.2,153.2 L797.8,139.1 L798.4,149.3 L799.1,160.6 L799.7,153.7 L800.4,147.7 L801.0,147.2 L801.7,145.5 L802.3,147.6 L803.0,147.7 L803.6,145.0 L804.2,143.4 L804.9,146.1 L805.5,147.7 L806.2,137.2 L806.8,130.5 L807.7,111.2 L808.3,138.8 L809.0,164.9 L809.6,151.5 L810.3,132.6 L810.9,110.8 L811.5,98.3 L812.2,131.0 L812.8,156.3 L813.7,126.2 L814.3,149.8 L815.0,190.6 L815.6,173.3 L816.3,143.4 L816.9,166.6 L817.6,190.6 L818.4,156.3 L819.3,111.2 L819.9,72.5 L820.8,143.4 L821.6,126.2 L822.5,111.2 L823.4,188.5" fill="none" stroke="#a81c1c" stroke-width="1.35" stroke-linejoin="round"/><path d="M103.9,152.0 L104.3,115.5 L105.2,205.7 L105.8,172.7 L106.4,134.8 L107.1,179.2 L107.7,207.8 L108.4,136.3 L109.0,41.4 L109.9,164.9 L110.7,53.2 L111.6,169.2 L112.5,79.0 L113.3,160.6 L114.2,134.8 L115.0,164.9 L115.9,136.9 L116.8,114.4 L117.6,162.7 L118.5,139.1 L119.3,175.6 L120.2,128.4 L121.0,147.7 L121.7,144.6 L122.3,143.4 L123.0,148.2 L123.6,155.2 L124.2,155.6 L124.8,152.3 L125.3,153.1 L125.9,151.3 L126.5,148.0 L127.1,143.4 L127.9,164.9 L128.5,150.6 L129.0,136.9 L129.5,149.1 L130.1,164.9 L130.7,148.3 L131.4,135.9 L132.0,147.1 L132.6,162.7 L133.3,149.4 L133.9,136.9 L134.6,150.9 L135.2,164.9 L135.9,153.5 L136.5,141.2 L137.2,175.7 L137.8,194.9 L138.7,203.5 L139.3,175.6 L139.9,136.9 L140.8,156.3 L141.3,128.3 L141.9,96.1 L142.4,145.0 L143.0,173.5 L143.5,183.0 L144.0,197.1 L144.6,166.3 L145.1,145.5 L145.6,158.3 L146.2,169.2 L146.7,145.8 L147.3,132.6 L147.9,152.4 L148.5,186.3 L149.2,206.4 L149.8,226.1 L150.4,184.0 L150.9,143.4 L151.4,123.9 L152.0,92.3 L152.8,186.3 L153.7,214.3 L154.3,187.4 L155.0,156.3 L155.6,165.0 L156.3,173.5 L157.1,126.2 L158.0,90.8 L158.8,156.3 L159.7,147.7 L160.4,158.4 L161.0,169.2 L161.9,188.5 L162.5,169.8 L163.1,156.3 L163.8,162.5 L164.4,175.6 L165.1,161.3 L165.7,152.0 L166.4,154.8 L167.0,156.3 L167.6,150.8 L168.2,147.7 L168.7,144.5 L169.4,147.8 L170.0,156.3 L170.7,155.3 L171.3,152.0 L172.0,154.7 L172.6,160.6 L173.1,161.8 L173.6,166.4 L174.1,167.0 L174.6,162.8 L175.2,158.4 L175.8,158.4 L176.5,156.3 L177.1,154.6 L177.7,152.0 L178.4,155.0 L179.0,156.3 L179.7,134.7 L180.3,121.9 L181.2,105.8 L182.0,186.3 L182.9,194.9 L183.8,231.4 L184.4,183.1 L185.1,132.6 L185.9,112.2 L186.4,138.7 L187.0,164.9 L187.1,164.9 L187.7,183.9 L188.3,191.7 L188.9,207.8 L189.7,143.4 L190.3,107.8 L190.8,68.2 L191.3,96.8 L191.9,143.4 L192.7,186.3 L193.4,155.5 L194.0,128.4 L194.7,144.6 L195.3,164.9 L196.0,184.6 L196.6,214.3 L197.5,164.9 L198.3,186.3 L199.2,212.1 L200.0,128.4 L200.6,152.6 L201.1,169.2 L201.6,176.0 L202.2,184.2 L203.0,134.8 L203.7,154.4 L204.3,164.9 L205.0,180.8 L205.6,194.9 L206.5,173.5 L207.1,174.8 L207.8,175.6 L208.4,172.9 L209.1,169.2 L209.7,166.6 L210.3,162.7 L211.0,150.6 L211.6,143.4 L212.3,149.5 L212.9,156.3 L213.6,153.2 L214.2,152.0 L214.9,153.8 L215.5,156.3 L216.1,152.5 L216.6,153.8 L217.2,149.8 L217.9,150.1 L218.5,152.0 L219.1,147.5 L219.8,141.2 L220.7,164.9 L221.5,190.6 L222.2,158.4 L222.8,132.6 L223.7,128.4 L224.3,152.1 L224.9,167.0 L225.8,136.9 L226.5,109.1 L227.1,75.7 L228.0,160.6 L228.6,165.0 L229.2,173.5 L229.9,161.7 L230.5,143.4 L231.2,152.3 L231.8,156.3 L232.7,126.2 L233.3,147.7 L234.0,160.6 L234.8,164.9 L235.7,124.1 L236.5,190.6 L237.4,169.2 L238.3,192.8 L238.9,169.1 L239.6,143.4 L240.2,146.1 L240.8,152.0 L241.5,145.1 L242.1,141.2 L242.8,152.6 L243.4,158.4 L244.1,188.3 L244.7,216.4 L245.4,176.0 L246.0,147.7 L246.9,169.2 L247.7,160.6 L248.3,148.4 L248.8,128.4 L249.3,145.9 L249.9,160.6 L250.4,168.5 L250.9,175.6 L251.5,165.1 L252.0,156.3 L252.7,143.7 L253.3,132.6 L254.2,156.3 L254.8,163.2 L255.4,173.5 L256.1,157.9 L256.7,149.8 L257.4,148.1 L258.0,143.4 L258.7,149.7 L259.3,156.3 L260.0,152.2 L260.6,147.7 L261.2,150.2 L261.9,154.1 L262.5,150.0 L263.2,143.4 L263.8,150.5 L264.5,164.9 L265.1,155.4 L265.8,147.7 L266.4,149.9 L267.0,156.3 L267.7,151.6 L268.3,149.8 L269.0,170.7 L269.6,182.0 L270.3,170.5 L270.9,156.3 L271.4,170.6 L272.0,186.3 L272.1,175.6 L272.7,172.5 L273.2,169.2 L273.8,203.0 L274.3,225.0 L274.8,187.7 L275.4,156.3 L275.9,139.0 L276.4,119.8 L277.0,156.4 L277.5,186.3 L278.1,157.3 L278.6,132.6 L279.1,149.0 L279.7,164.9 L280.3,216.4 L281.2,143.4 L281.8,90.8 L282.3,123.5 L282.9,147.7 L283.7,173.5 L284.4,159.8 L285.0,136.9 L285.6,147.7 L286.1,164.9 L286.6,176.3 L287.2,182.0 L287.8,143.7 L288.5,121.9 L289.3,156.3 L289.9,128.6 L290.4,91.8 L290.9,122.2 L291.5,143.4 L292.3,197.1 L293.2,147.7 L294.1,186.3 L294.9,156.3 L295.8,169.2 L296.4,163.2 L297.1,160.6 L297.9,130.5 L298.8,126.2 L299.4,140.5 L300.1,156.3 L300.7,155.2 L301.4,152.0 L302.0,156.6 L302.6,167.0 L303.5,147.7 L304.1,150.3 L304.8,152.0 L305.4,152.1 L305.9,150.6 L306.5,149.8 L307.2,153.9 L307.8,156.3 L308.4,153.2 L309.1,152.0 L309.7,153.1 L310.4,156.3 L311.0,149.1 L311.7,143.4 L312.3,133.9 L313.0,128.4 L313.5,140.9 L314.0,156.3 L314.6,167.8 L315.1,173.5 L315.6,156.0 L316.2,136.9 L316.7,116.9 L317.3,100.4 L317.9,113.3 L318.5,130.5 L319.4,74.7 L319.9,113.6 L320.5,136.9 L321.0,165.0 L321.5,194.9 L322.1,181.2 L322.6,156.3 L323.2,148.9 L323.7,141.2 L324.6,169.2 L325.2,177.9 L325.8,186.3 L326.4,173.4 L326.9,152.0 L327.5,157.4 L328.0,160.6 L328.6,144.2 L329.3,126.2 L330.1,87.5 L330.7,120.5 L331.2,156.3 L331.7,176.2 L332.3,188.5 L333.1,117.6 L334.0,126.2 L334.9,164.9 L335.7,139.1 L336.4,147.1 L337.0,156.3 L337.9,134.8 L338.5,153.9 L339.2,164.9 L339.8,130.1 L340.4,109.0 L341.1,123.4 L341.7,139.1 L342.4,150.0 L343.0,160.6 L343.7,148.2 L344.3,126.2 L345.0,154.0 L345.6,190.6 L346.5,126.2 L347.3,156.3 L348.0,151.5 L348.6,143.4 L349.3,148.5 L349.9,152.0 L350.5,150.6 L351.2,147.7 L351.8,150.8 L352.5,153.1 L353.1,152.9 L353.8,149.8 L354.4,152.4 L355.1,156.3 L355.7,149.3 L356.3,143.4 L357.1,173.5 L357.7,148.2 L358.2,130.5 L358.8,139.5 L359.3,156.3 L359.8,144.6 L360.4,136.9 L360.9,155.6 L361.4,168.3 L361.9,177.8 L362.5,143.7 L363.2,121.9 L363.8,140.2 L364.5,156.3 L365.1,142.1 L365.7,128.4 L366.4,147.7 L367.0,164.9 L367.9,190.6 L368.7,164.9 L369.4,183.7 L370.0,199.2 L370.7,181.2 L371.3,167.0 L372.0,158.1 L372.6,141.2 L373.3,157.0 L373.9,173.5 L374.8,160.6 L375.6,214.3 L376.5,52.1 L377.3,156.3 L378.2,100.4 L379.1,164.9 L379.7,157.1 L380.3,147.7 L381.0,120.4 L381.6,88.6 L382.5,156.3 L383.1,159.2 L383.8,164.9 L384.4,161.2 L385.1,160.6 L385.7,167.6 L386.4,175.6 L387.2,186.3 L387.8,179.5 L388.3,169.2 L388.8,164.4 L389.4,156.3 L389.9,151.1 L390.4,143.4 L391.0,151.2 L391.5,164.9 L392.2,159.0 L392.8,147.7 L393.4,153.3 L394.1,156.3 L394.7,155.4 L395.4,152.0 L396.0,155.3 L396.7,158.4 L397.3,156.8 L398.0,152.0 L398.6,154.3 L399.2,160.6 L399.9,143.7 L400.5,134.8 L401.4,156.3 L402.3,164.9 L402.9,147.9 L403.5,139.1 L404.2,140.4 L404.8,143.4 L405.7,128.4 L406.3,140.0 L407.0,156.3 L407.6,157.4 L408.3,160.6 L408.9,176.2 L409.6,190.6 L410.4,194.9 L411.3,156.3 L411.9,161.9 L412.6,173.5 L413.4,147.7 L414.1,165.8 L414.7,182.0 L415.6,134.8 L416.2,97.2 L416.9,71.4 L417.7,130.5 L418.6,207.8 L419.4,160.6 L420.0,173.8 L420.5,184.2 L421.0,147.4 L421.6,126.2 L422.1,139.4 L422.7,156.3 L423.2,175.5 L423.7,186.3 L424.6,190.6 L425.2,178.1 L425.9,164.9 L426.5,158.3 L427.2,147.7 L427.8,116.3 L428.5,79.0 L429.3,143.4 L430.2,169.2 L430.8,147.1 L431.5,121.9 L432.3,149.8 L433.0,151.8 L433.6,156.3 L434.3,152.3 L434.9,147.7 L435.5,154.1 L436.2,167.0 L436.8,155.8 L437.5,139.1 L438.1,150.7 L438.8,156.3 L439.4,153.6 L440.1,147.7 L440.7,150.0 L441.3,156.3 L442.1,147.7 L442.8,149.3 L443.4,152.0 L444.1,148.0 L444.7,145.5 L445.4,149.0 L446.0,156.3 L446.7,158.9 L447.3,160.6 L447.9,163.7 L448.6,164.9 L449.2,155.1 L449.9,147.7 L450.5,153.6 L451.2,156.3 L452.0,128.4 L452.7,137.7 L453.3,143.4 L454.0,146.0 L454.6,152.0 L455.5,141.2 L456.1,157.6 L456.8,169.2 L457.4,159.6 L458.0,143.4 L458.7,118.1 L459.3,100.4 L460.2,147.7 L461.0,210.0 L461.9,143.4 L462.8,109.0 L463.6,121.9 L464.5,143.4 L465.3,136.9 L466.0,143.8 L466.6,149.8 L467.3,149.2 L467.9,147.7 L468.8,59.6 L469.6,154.1 L470.5,244.3 L471.4,186.3 L472.2,164.9 L472.9,161.1 L473.5,156.3 L474.1,142.5 L474.8,134.8 L475.4,139.8 L476.1,143.4 L476.9,97.2 L477.8,156.3 L478.7,199.2 L479.5,164.9 L480.2,161.2 L480.8,156.3 L481.5,144.4 L482.1,126.2 L483.0,156.3 L483.6,159.5 L484.2,160.6 L484.9,154.3 L485.5,149.8 L486.2,151.6 L486.8,152.0 L487.5,151.1 L488.1,147.7 L488.8,147.8 L489.4,145.5 L490.0,149.2 L490.7,156.3 L491.3,156.8 L492.0,160.6 L492.5,159.7 L493.1,156.7 L493.7,156.3 L494.3,158.6 L495.0,160.6 L495.6,168.2 L496.3,171.3 L497.1,139.1 L498.0,121.9 L498.6,128.7 L499.3,136.9 L499.9,144.9 L500.6,156.3 L501.2,162.5 L501.9,169.2 L502.5,167.6 L503.1,164.9 L503.8,158.8 L504.4,156.3 L505.1,146.9 L505.7,139.1 L506.6,186.3 L507.4,134.8 L508.3,235.7 L509.2,152.0 L509.8,146.0 L510.4,143.4 L511.3,190.6 L512.0,179.1 L512.6,164.9 L513.5,106.9 L514.3,203.5 L515.2,182.0 L516.0,212.1 L516.9,164.9 L517.7,74.7 L518.4,122.7 L519.0,156.3 L519.9,175.6 L520.5,156.0 L521.2,139.1 L521.8,146.8 L522.5,156.3 L523.1,137.4 L523.8,117.6 L524.4,126.2 L525.1,139.1 L525.7,146.0 L526.3,156.3 L527.1,132.6 L527.8,143.1 L528.4,156.3 L529.1,154.0 L529.7,152.0 L530.4,151.8 L531.0,154.1 L531.7,153.8 L532.3,152.0 L532.9,150.1 L533.6,147.7 L534.2,149.1 L534.9,152.0 L535.5,141.9 L536.2,136.9 L536.8,143.6 L537.5,147.7 L538.1,134.2 L538.7,126.2 L539.4,135.1 L540.0,149.8 L540.7,130.0 L541.3,117.6 L542.0,111.5 L542.6,109.0 L543.3,133.1 L543.9,147.7 L544.8,160.6 L545.6,182.0 L546.5,115.5 L547.1,133.1 L547.8,156.3 L548.6,117.6 L549.2,89.0 L549.7,66.1 L550.2,109.2 L550.8,139.1 L551.6,117.6 L552.3,164.5 L552.9,205.7 L553.8,143.4 L554.6,106.9 L555.5,156.3 L556.4,134.8 L557.2,173.5 L558.1,190.6 L558.9,143.4 L559.8,169.2 L560.4,170.2 L561.1,173.5 L561.9,186.3 L562.8,237.9 L563.7,190.6 L564.3,194.6 L564.9,199.2 L565.8,173.5 L566.5,169.1 L567.1,160.6 L568.0,152.0 L568.5,136.9 L569.0,124.1 L569.6,137.6 L570.1,147.7 L570.6,157.1 L571.2,173.5 L571.7,166.3 L572.3,156.3 L572.8,144.8 L573.3,128.4 L573.9,141.6 L574.4,149.8 L575.0,156.1 L575.7,160.6 L576.3,153.4 L577.0,147.7 L577.6,150.0 L578.3,156.3 L578.9,149.9 L579.6,143.4 L580.2,142.1 L580.8,139.1 L581.5,141.1 L582.1,145.5 L582.8,147.8 L583.4,152.0 L584.1,154.3 L584.7,156.3 L585.4,161.7 L586.0,164.9 L586.6,170.9 L587.3,173.5 L587.9,190.2 L588.6,216.4 L589.4,177.8 L590.1,134.9 L590.7,104.7 L591.6,156.3 L592.2,138.6 L592.9,113.3 L593.7,147.7 L594.4,157.2 L595.0,164.9 L595.7,140.4 L596.3,109.0 L597.0,131.5 L597.6,143.4 L598.2,137.7 L598.9,126.2 L599.7,156.3 L600.4,177.1 L601.0,190.6 L601.7,174.5 L602.3,152.0 L603.0,121.3 L603.6,94.0 L604.3,127.6 L604.9,156.3 L605.5,148.1 L606.2,143.4 L606.8,156.1 L607.5,164.9 L608.3,194.9 L609.0,176.7 L609.6,152.0 L610.3,162.0 L610.9,169.2 L611.1,169.2 L611.6,160.2 L612.1,152.0 L612.7,126.7 L613.2,104.7 L613.8,112.8 L614.3,121.9 L614.8,134.1 L615.4,156.3 L615.9,148.1 L616.4,134.8 L617.0,137.1 L617.5,139.1 L618.1,147.0 L618.6,156.3 L619.2,152.2 L619.9,147.7 L620.5,149.4 L621.2,149.8 L621.8,150.6 L622.5,152.0 L623.1,151.0 L623.7,147.7 L624.4,150.0 L625.0,149.8 L625.7,154.6 L626.3,160.6 L627.2,143.4 L627.8,147.8 L628.5,156.3 L629.1,166.6 L629.8,173.5 L630.6,164.9 L631.5,212.1 L632.3,186.3 L633.2,173.5 L633.8,182.6 L634.5,186.3 L635.1,137.8 L635.8,104.7 L636.4,123.0 L637.1,136.9 L637.9,186.3 L638.6,189.6 L639.2,190.6 L639.9,159.9 L640.5,111.2 L641.4,156.3 L642.2,199.2 L643.1,207.8 L643.7,52.1 L644.4,72.5 L645.2,132.6 L646.1,156.3 L646.9,126.2 L647.8,169.2 L648.7,117.6 L649.3,163.3 L649.9,231.4 L650.8,156.3 L651.3,137.3 L651.9,126.2 L652.4,156.5 L653.0,173.5 L653.5,129.3 L654.0,100.4 L654.6,123.2 L655.1,156.3 L655.6,145.1 L656.2,132.6 L656.7,150.3 L657.3,169.2 L657.9,158.4 L658.5,143.4 L659.4,160.6 L660.0,166.2 L660.7,175.6 L661.5,152.0 L662.2,155.5 L662.8,156.3 L663.5,143.4 L664.1,134.8 L664.8,143.9 L665.4,149.8 L666.1,151.3 L666.7,156.3 L667.3,151.9 L668.0,147.7 L668.6,148.2 L669.3,152.0 L669.9,150.4 L670.6,149.8 L671.1,143.7 L671.7,141.1 L672.3,134.8 L672.9,143.1 L673.6,152.0 L674.2,156.0 L674.9,164.9 L675.5,168.7 L676.2,169.2 L676.8,149.1 L677.4,117.6 L678.1,179.2 L678.7,218.6 L679.6,152.0 L680.4,104.7 L681.1,130.5 L681.7,164.9 L682.4,153.3 L683.0,143.4 L683.7,153.9 L684.3,169.2 L685.2,111.2 L685.8,123.5 L686.5,143.4 L687.1,108.7 L687.7,88.6 L688.4,113.9 L689.0,139.1 L689.7,147.0 L690.3,160.6 L691.2,111.2 L691.8,124.0 L692.5,143.4 L693.1,138.9 L693.8,130.5 L694.4,128.3 L695.1,126.2 L695.7,103.2 L696.3,87.5 L697.1,126.2 L697.7,140.6 L698.2,152.0 L698.8,144.3 L699.3,139.1 L699.8,147.9 L700.4,156.3 L701.0,182.0 L701.9,147.7 L702.5,152.9 L703.2,160.6 L703.8,148.9 L704.5,136.9 L705.1,147.5 L705.7,156.3 L706.4,136.3 L707.0,115.5 L707.9,160.6 L708.5,154.7 L709.2,149.8 L709.8,154.2 L710.5,156.3 L711.1,148.4 L711.8,134.8 L712.4,137.7 L713.0,143.4 L713.7,143.4 L714.3,145.5 L715.0,149.0 L715.6,156.3 L716.5,136.9 L717.1,150.0 L717.8,156.3 L718.4,174.3 L719.1,184.2 L719.7,152.0 L720.3,128.4 L721.2,124.1 L722.1,152.0 L722.7,161.0 L723.4,164.9 L724.0,169.7 L724.6,177.8 L725.3,179.9 L725.9,182.0 L726.6,175.6 L727.2,169.2 L727.9,168.4 L728.5,164.9 L729.1,158.5 L729.8,156.3 L730.4,127.8 L731.1,104.7 L731.9,156.3 L732.8,143.4 L733.7,199.2 L734.5,248.6 L735.4,100.4 L736.2,59.6 L737.1,156.3 L738.0,117.6 L738.8,203.5 L739.7,156.3 L740.5,96.1 L741.4,190.6 L742.3,164.9 L743.1,201.4 L744.0,143.4 L744.6,127.3 L745.3,109.0 L745.9,130.1 L746.5,164.9 L747.2,168.9 L747.8,175.6 L748.7,147.7 L749.3,133.4 L750.0,119.8 L750.6,142.3 L751.3,156.3 L751.9,145.6 L752.6,130.5 L753.4,149.8 L754.1,147.9 L754.7,143.4 L755.4,151.3 L756.0,156.3 L756.6,153.9 L757.3,149.8 L757.9,149.8 L758.6,147.7 L759.2,150.5 L759.9,152.0 L760.5,144.0 L761.2,132.6 L761.6,133.1 L762.1,134.8 L762.8,139.4 L763.4,147.7 L764.1,168.8 L764.7,184.2 L765.4,159.7 L766.0,143.4 L766.7,157.3 L767.3,164.9 L768.2,141.2 L768.8,160.6 L769.5,177.8 L770.1,144.8 L770.7,117.6 L771.6,156.3 L772.5,106.9 L773.3,152.0 L774.2,128.4 L775.0,83.3 L775.9,164.9 L776.8,104.7 L777.6,216.4 L778.5,156.3 L779.3,132.6 L780.0,168.8 L780.6,190.6 L781.5,136.9 L782.1,147.8 L782.8,164.9 L783.6,128.4 L784.2,117.7 L784.7,106.9 L785.2,118.8 L785.8,139.1 L786.4,142.8 L787.1,143.4 L787.7,130.1 L788.4,115.5 L789.0,139.6 L789.6,156.3 L790.3,169.2 L790.9,186.3 L791.6,165.0 L792.2,134.8 L792.9,175.4 L793.5,207.8 L794.4,164.9 L795.2,134.8 L795.9,148.9 L796.5,160.6 L797.2,153.2 L797.8,139.1 L798.4,149.3 L799.1,160.6 L799.7,153.7 L800.4,147.7 L801.0,147.2 L801.7,145.5 L802.3,147.6 L803.0,147.7 L803.6,145.0 L804.2,143.4 L804.9,146.1 L805.5,147.7 L806.2,137.2 L806.8,130.5 L807.7,111.2 L808.3,138.8 L809.0,164.9 L809.6,151.5 L810.3,132.6 L810.9,110.8 L811.5,98.3 L812.2,131.0 L812.8,156.3 L813.7,126.2 L814.3,149.8 L815.0,190.6 L815.6,173.3 L816.3,143.4 L816.9,166.6 L817.6,190.6 L818.4,156.3 L819.3,111.2 L819.9,72.5 L820.8,143.4 L821.6,126.2 L822.5,111.2 L823.4,188.5" fill="none" stroke="#e02424" stroke-width="0.5" stroke-linejoin="round"/>
<line x1="101" y1="264.5" x2="104" y2="264.5" stroke="#777" stroke-width="1.2"/>
<line x1="101" y1="245.5" x2="104" y2="245.5" stroke="#777" stroke-width="1.2"/>
<line x1="101" y1="226.5" x2="104" y2="226.5" stroke="#777" stroke-width="1.2"/>
<line x1="101" y1="207.5" x2="104" y2="207.5" stroke="#777" stroke-width="1.2"/>
<line x1="101" y1="188.5" x2="104" y2="188.5" stroke="#777" stroke-width="1.2"/>
<line x1="101" y1="170.5" x2="104" y2="170.5" stroke="#777" stroke-width="1.2"/>
<line x1="101" y1="151.5" x2="104" y2="151.5" stroke="#777" stroke-width="1.2"/>
<line x1="101" y1="132.5" x2="104" y2="132.5" stroke="#777" stroke-width="1.2"/>
<line x1="101" y1="113.5" x2="104" y2="113.5" stroke="#777" stroke-width="1.2"/>
<line x1="101" y1="94.5" x2="104" y2="94.5" stroke="#777" stroke-width="1.2"/>
<line x1="101" y1="75.5" x2="104" y2="75.5" stroke="#777" stroke-width="1.2"/>
<line x1="101" y1="56.5" x2="104" y2="56.5" stroke="#777" stroke-width="1.2"/>
<line x1="101" y1="38.5" x2="104" y2="38.5" stroke="#777" stroke-width="1.2"/>
<path d="M104,264.5 H824 V38 H104" fill="none" stroke="#1a1a1a" stroke-width="2.2"/>
<line x1="104" y1="36.9" x2="104" y2="265.6" stroke="#2e2e2e" stroke-width="1.6"/>
<rect x="117" y="45" width="216" height="21" rx="2" fill="#fff" stroke="#333" stroke-width="1.2"/>
<line x1="127" y1="55.5" x2="147.5" y2="55.5" stroke="#8b2020" stroke-width="1.5"/>
<text x="148" y="61" font-size="13.7" textLength="180" lengthAdjust="spacingAndGlyphs" fill="#a03a3a" font-family="'Liberation Sans', Arial, sans-serif">INTEGRATE(.plot_1.curve_1)</text>
<text x="97.5" y="269.10" font-size="13" text-anchor="end" fill="#222" font-family="'Liberation Sans', Arial, sans-serif">-0.015</text>
<text x="97.5" y="231.35" font-size="13" text-anchor="end" fill="#222" font-family="'Liberation Sans', Arial, sans-serif">-0.01</text>
<text x="97.5" y="193.60" font-size="13" text-anchor="end" fill="#222" font-family="'Liberation Sans', Arial, sans-serif">-0.005</text>
<text x="97.5" y="155.85" font-size="13" text-anchor="end" fill="#222" font-family="'Liberation Sans', Arial, sans-serif">0.0</text>
<text x="97.5" y="118.10" font-size="13" text-anchor="end" fill="#222" font-family="'Liberation Sans', Arial, sans-serif">0.005</text>
<text x="97.5" y="80.35" font-size="13" text-anchor="end" fill="#222" font-family="'Liberation Sans', Arial, sans-serif">0.01</text>
<text x="97.5" y="42.60" font-size="13" text-anchor="end" fill="#222" font-family="'Liberation Sans', Arial, sans-serif">0.015</text>
<text x="104.00" y="281.3" font-size="13" text-anchor="middle" fill="#222" font-family="'Liberation Sans', Arial, sans-serif">0.0</text>
<text x="176.00" y="281.3" font-size="13" text-anchor="middle" fill="#222" font-family="'Liberation Sans', Arial, sans-serif">1.0</text>
<text x="248.00" y="281.3" font-size="13" text-anchor="middle" fill="#222" font-family="'Liberation Sans', Arial, sans-serif">2.0</text>
<text x="320.00" y="281.3" font-size="13" text-anchor="middle" fill="#222" font-family="'Liberation Sans', Arial, sans-serif">3.0</text>
<text x="392.00" y="281.3" font-size="13" text-anchor="middle" fill="#222" font-family="'Liberation Sans', Arial, sans-serif">4.0</text>
<text x="464.00" y="281.3" font-size="13" text-anchor="middle" fill="#222" font-family="'Liberation Sans', Arial, sans-serif">5.0</text>
<text x="536.00" y="281.3" font-size="13" text-anchor="middle" fill="#222" font-family="'Liberation Sans', Arial, sans-serif">6.0</text>
<text x="608.00" y="281.3" font-size="13" text-anchor="middle" fill="#222" font-family="'Liberation Sans', Arial, sans-serif">7.0</text>
<text x="680.00" y="281.3" font-size="13" text-anchor="middle" fill="#222" font-family="'Liberation Sans', Arial, sans-serif">8.0</text>
<text x="752.00" y="281.3" font-size="13" text-anchor="middle" fill="#222" font-family="'Liberation Sans', Arial, sans-serif">9.0</text>
<text x="824.00" y="281.3" font-size="13" text-anchor="middle" fill="#222" font-family="'Liberation Sans', Arial, sans-serif">10.0</text>
<text x="464" y="30.7" font-size="13" text-anchor="middle" fill="#222" font-family="'Liberation Sans', Arial, sans-serif" >MODEL_2</text>
<text x="43.3" y="299" font-size="13.6" text-anchor="start" fill="#222" font-family="'Liberation Sans', Arial, sans-serif" textLength="122" lengthAdjust="spacingAndGlyphs">Analysis:&#160; Last_Run</text>
<text x="432.9" y="298.6" font-size="13.4" text-anchor="start" fill="#222" font-family="'Liberation Sans', Arial, sans-serif" textLength="63.2" lengthAdjust="spacingAndGlyphs">Time (sec)</text>
<text x="761.3" y="299" font-size="13.36" text-anchor="start" fill="#222" font-family="'Liberation Sans', Arial, sans-serif" textLength="125" lengthAdjust="spacingAndGlyphs">2018-04-24 10:22:52</text>
<text x="0" y="0" font-size="12.6" text-anchor="middle" fill="#222" font-family="'Liberation Sans', Arial, sans-serif" transform="translate(40.8,148.3) rotate(-90)">Angle (deg)</text>
<path d="M131.2,653.5 V357.3 H782.5" fill="none" stroke="#777" stroke-width="1.8"/>
<path d="M782.5,357.3 V653.5" fill="none" stroke="#222" stroke-width="1.5"/>
<line x1="211.5" y1="376.3" x2="211.5" y2="618.5" stroke="#acacac" stroke-width="1"/>
<line x1="238.5" y1="376.3" x2="238.5" y2="618.5" stroke="#a6a6a6" stroke-width="1"/>
<line x1="265.5" y1="376.3" x2="265.5" y2="618.5" stroke="#acacac" stroke-width="1"/>
<line x1="292.5" y1="376.3" x2="292.5" y2="618.5" stroke="#a6a6a6" stroke-width="1"/>
<line x1="319.5" y1="376.3" x2="319.5" y2="618.5" stroke="#acacac" stroke-width="1"/>
<line x1="346.5" y1="376.3" x2="346.5" y2="618.5" stroke="#a6a6a6" stroke-width="1"/>
<line x1="373.5" y1="376.3" x2="373.5" y2="618.5" stroke="#acacac" stroke-width="1"/>
<line x1="400.5" y1="376.3" x2="400.5" y2="618.5" stroke="#a6a6a6" stroke-width="1"/>
<line x1="427.5" y1="376.3" x2="427.5" y2="618.5" stroke="#acacac" stroke-width="1"/>
<line x1="454.5" y1="376.3" x2="454.5" y2="618.5" stroke="#a6a6a6" stroke-width="1"/>
<line x1="481.5" y1="376.3" x2="481.5" y2="618.5" stroke="#acacac" stroke-width="1"/>
<line x1="509.5" y1="376.3" x2="509.5" y2="618.5" stroke="#a6a6a6" stroke-width="1"/>
<line x1="536.5" y1="376.3" x2="536.5" y2="618.5" stroke="#acacac" stroke-width="1"/>
<line x1="563.5" y1="376.3" x2="563.5" y2="618.5" stroke="#a6a6a6" stroke-width="1"/>
<line x1="590.5" y1="376.3" x2="590.5" y2="618.5" stroke="#acacac" stroke-width="1"/>
<line x1="617.5" y1="376.3" x2="617.5" y2="618.5" stroke="#a6a6a6" stroke-width="1"/>
<line x1="644.5" y1="376.3" x2="644.5" y2="618.5" stroke="#acacac" stroke-width="1"/>
<line x1="671.5" y1="376.3" x2="671.5" y2="618.5" stroke="#a6a6a6" stroke-width="1"/>
<line x1="698.5" y1="376.3" x2="698.5" y2="618.5" stroke="#acacac" stroke-width="1"/>
<line x1="184.3" y1="605.5" x2="725.5" y2="605.5" stroke="#aaaaaa" stroke-width="1"/>
<line x1="184.3" y1="591.5" x2="725.5" y2="591.5" stroke="#aaaaaa" stroke-width="1"/>
<line x1="184.3" y1="578.5" x2="725.5" y2="578.5" stroke="#aaaaaa" stroke-width="1"/>
<line x1="184.3" y1="564.5" x2="725.5" y2="564.5" stroke="#aaaaaa" stroke-width="1"/>
<line x1="184.3" y1="551.5" x2="725.5" y2="551.5" stroke="#aaaaaa" stroke-width="1"/>
<line x1="184.3" y1="537.5" x2="725.5" y2="537.5" stroke="#aaaaaa" stroke-width="1"/>
<line x1="184.3" y1="524.5" x2="725.5" y2="524.5" stroke="#aaaaaa" stroke-width="1"/>
<line x1="184.3" y1="510.5" x2="725.5" y2="510.5" stroke="#aaaaaa" stroke-width="1"/>
<line x1="184.3" y1="497.5" x2="725.5" y2="497.5" stroke="#aaaaaa" stroke-width="1"/>
<line x1="184.3" y1="483.5" x2="725.5" y2="483.5" stroke="#aaaaaa" stroke-width="1"/>
<line x1="184.3" y1="470.5" x2="725.5" y2="470.5" stroke="#aaaaaa" stroke-width="1"/>
<line x1="184.3" y1="457.5" x2="725.5" y2="457.5" stroke="#aaaaaa" stroke-width="1"/>
<line x1="184.3" y1="443.5" x2="725.5" y2="443.5" stroke="#aaaaaa" stroke-width="1"/>
<line x1="184.3" y1="430.5" x2="725.5" y2="430.5" stroke="#aaaaaa" stroke-width="1"/>
<line x1="184.3" y1="416.5" x2="725.5" y2="416.5" stroke="#aaaaaa" stroke-width="1"/>
<line x1="184.3" y1="403.5" x2="725.5" y2="403.5" stroke="#aaaaaa" stroke-width="1"/>
<line x1="184.3" y1="389.5" x2="725.5" y2="389.5" stroke="#aaaaaa" stroke-width="1"/>
<path d="M184.8,391.7 L184.8,534.0 L184.8,441.4 L184.8,575.6 L184.8,432.2 L184.8,561.7 L184.9,446.0 L184.9,459.0 L185.1,580.2 L185.6,459.9 L185.7,559.8 L185.8,571.0 L186.0,441.4 L186.5,448.4 L186.5,445.2 L186.9,575.6 L187.2,469.2 L187.3,546.0 L187.6,580.2 L187.9,459.9 L188.1,595.3 L188.1,459.1 L188.6,469.2 L188.8,575.6 L188.9,570.6 L189.3,453.0 L189.7,484.2 L189.7,561.7 L189.9,464.5 L190.2,584.9 L190.5,525.5 L190.6,492.3 L190.9,547.8 L191.3,495.1 L192.0,485.4 L192.1,526.3 L192.9,498.5 L193.7,516.5 L193.9,536.3 L194.5,503.4 L195.3,480.7 L195.3,517.5 L196.1,506.8 L196.9,516.6 L197.7,502.4 L198.5,519.9 L199.3,502.2 L200.1,519.9 L200.9,500.2 L201.7,525.2 L202.2,487.7 L202.5,492.3 L203.3,527.6 L204.1,497.6 L204.9,530.3 L205.7,496.3 L206.5,527.0 L207.3,498.0 L207.3,492.3 L208.1,516.4 L208.9,493.3 L209.7,534.2 L210.1,473.8 L210.5,483.2 L211.3,538.0 L212.1,482.2 L212.9,566.4 L212.9,532.4 L213.7,485.1 L214.5,532.6 L215.3,480.2 L216.1,529.6 L216.6,547.8 L216.9,476.6 L217.7,533.1 L218.4,446.0 L218.5,475.5 L219.3,532.6 L220.1,478.1 L220.3,577.9 L220.9,531.0 L221.7,484.0 L222.5,527.6 L222.6,469.2 L223.3,498.1 L224.1,519.1 L224.9,490.7 L225.3,543.2 L225.7,527.7 L226.5,494.0 L227.3,525.9 L227.7,534.0 L228.1,502.3 L228.9,520.4 L229.7,504.3 L230.5,516.4 L231.3,507.4 L232.1,514.0 L232.9,509.6 L233.7,514.5 L234.5,508.8 L235.3,515.4 L236.1,511.7 L236.9,519.4 L237.7,509.7 L238.5,521.2 L239.3,502.0 L240.1,528.3 L240.9,494.9 L241.7,541.0 L242.0,566.4 L242.5,482.6 L243.3,542.4 L243.4,441.4 L244.1,480.0 L244.9,543.6 L245.7,471.4 L246.2,552.5 L246.5,535.6 L247.3,474.8 L248.1,542.7 L248.5,454.1 L248.9,498.5 L249.7,534.0 L250.3,552.5 L250.5,474.5 L251.3,540.3 L252.1,499.7 L252.2,478.4 L252.9,530.2 L253.7,500.4 L254.0,466.9 L254.5,539.1 L255.3,492.5 L255.4,557.1 L256.1,518.5 L256.9,479.5 L257.3,476.1 L257.7,527.6 L258.5,492.5 L258.7,545.5 L259.3,516.1 L260.1,496.5 L260.9,519.9 L261.0,492.3 L261.7,499.6 L262.5,512.5 L263.3,505.5 L263.8,487.7 L264.1,515.8 L264.9,505.7 L265.7,514.3 L266.5,506.5 L267.3,516.1 L268.1,502.3 L268.9,523.7 L269.7,504.9 L270.5,520.6 L270.8,547.8 L271.3,491.8 L272.1,530.1 L272.9,499.5 L273.1,487.7 L273.7,523.9 L274.5,489.9 L275.3,531.3 L275.4,466.9 L276.1,491.2 L276.9,530.5 L277.0,545.5 L277.7,492.9 L278.5,518.3 L279.3,488.8 L280.0,483.1 L280.1,532.9 L280.9,499.7 L281.7,534.0 L281.7,530.8 L282.5,485.5 L283.0,463.4 L283.3,535.0 L284.1,488.5 L284.7,559.4 L284.9,537.7 L285.7,486.3 L286.3,471.5 L286.5,531.2 L287.3,488.5 L288.1,527.9 L288.1,534.0 L288.9,485.3 L289.7,528.7 L290.5,480.7 L290.9,471.5 L291.3,514.2 L292.1,484.9 L292.8,520.1 L292.9,523.0 L293.7,490.6 L294.5,517.4 L295.3,496.5 L296.1,517.2 L296.9,504.7 L297.7,511.0 L298.5,503.3 L299.3,515.7 L300.1,507.8 L300.9,514.0 L301.7,506.9 L302.5,516.2 L303.3,507.7 L303.9,522.4 L304.1,518.3 L304.9,502.6 L305.7,516.5 L306.5,502.1 L306.6,501.6 L307.3,520.3 L308.1,498.8 L308.9,520.7 L309.7,495.4 L310.3,487.7 L310.5,536.8 L311.3,559.4 L311.3,484.5 L312.1,542.8 L312.2,420.6 L312.9,477.4 L313.7,532.7 L314.1,469.2 L314.5,492.3 L315.3,534.0 L315.4,547.8 L316.1,483.3 L316.8,434.5 L316.9,539.5 L317.7,482.7 L318.2,540.9 L318.5,534.4 L319.3,482.5 L319.6,464.5 L320.1,528.6 L320.5,543.2 L320.9,494.6 L321.7,434.5 L321.7,529.9 L322.4,573.3 L322.5,492.0 L323.3,530.4 L323.8,483.1 L324.1,487.1 L324.9,521.6 L325.6,478.4 L325.7,495.4 L326.5,527.6 L327.0,529.3 L327.3,498.5 L328.1,527.6 L328.4,476.1 L328.9,498.3 L329.7,525.7 L330.2,496.9 L330.5,506.1 L331.3,518.1 L332.1,508.5 L332.9,518.8 L333.5,501.6 L333.7,504.9 L334.5,512.0 L335.3,504.2 L336.1,517.2 L336.9,500.5 L337.7,516.8 L338.5,498.1 L339.3,519.2 L339.5,496.9 L340.1,502.2 L340.9,531.9 L341.7,501.8 L342.5,536.0 L342.7,545.5 L343.3,489.7 L344.1,535.7 L344.6,446.0 L344.9,479.7 L345.7,533.2 L346.0,561.7 L346.5,489.1 L347.3,532.5 L347.8,478.4 L348.1,499.6 L348.9,532.1 L349.7,496.3 L350.5,539.3 L351.1,534.0 L351.3,482.9 L352.1,537.2 L352.8,463.4 L352.9,475.9 L353.7,537.8 L354.5,483.6 L354.6,550.2 L355.3,540.7 L356.1,493.6 L356.5,476.1 L356.9,516.4 L357.7,485.1 L357.9,543.2 L358.5,536.4 L359.3,495.0 L359.7,480.7 L360.1,522.3 L360.9,487.6 L361.1,538.6 L361.7,527.9 L362.0,462.2 L362.5,483.3 L363.3,531.5 L363.9,529.3 L364.1,488.5 L364.9,521.1 L365.7,496.4 L365.7,466.9 L366.5,519.6 L367.3,504.3 L367.6,506.2 L368.1,513.2 L368.9,508.0 L369.7,514.4 L370.5,508.6 L371.3,514.4 L372.1,508.5 L372.9,521.2 L373.7,500.9 L374.1,480.7 L374.5,521.7 L375.0,536.3 L375.3,494.8 L376.1,526.7 L376.9,490.1 L377.3,487.7 L377.7,533.6 L378.5,491.3 L379.2,473.8 L379.3,532.2 L380.1,491.8 L380.9,535.5 L381.0,483.1 L381.7,486.0 L382.5,522.1 L382.9,545.5 L383.3,490.2 L384.1,522.4 L384.2,487.7 L384.9,489.1 L385.7,528.4 L385.9,471.5 L386.5,475.2 L387.0,557.1 L387.3,533.5 L388.1,485.6 L388.2,462.2 L388.9,414.8 L388.9,529.9 L389.7,487.8 L389.8,534.0 L390.5,532.9 L390.7,569.8 L391.3,499.7 L391.6,470.3 L392.1,524.6 L392.9,495.9 L393.0,529.3 L393.7,519.4 L394.5,495.6 L395.3,517.3 L395.3,510.8 L396.1,501.8 L396.9,513.3 L397.7,492.3 L397.7,497.7 L398.5,515.6 L399.3,498.7 L399.5,496.9 L400.1,513.5 L400.9,506.5 L401.4,522.4 L401.7,513.8 L402.5,503.0 L403.3,515.8 L403.7,501.6 L404.1,504.5 L404.9,517.6 L405.7,506.6 L406.5,516.9 L407.3,505.5 L407.4,527.0 L408.1,516.4 L408.8,498.1 L408.9,506.9 L409.7,516.3 L410.5,506.9 L411.3,518.4 L412.1,506.4 L412.9,520.0 L412.9,529.3 L413.7,498.9 L414.5,528.1 L415.3,494.8 L416.1,529.1 L416.2,485.4 L416.9,497.7 L417.6,540.9 L417.7,528.4 L418.5,449.5 L418.5,481.6 L419.3,524.3 L419.9,577.9 L420.1,484.8 L420.9,526.7 L421.3,478.4 L421.7,491.5 L422.5,521.2 L422.7,457.6 L423.3,481.3 L424.0,534.0 L424.1,531.3 L424.9,485.7 L425.7,528.0 L426.5,476.5 L426.8,458.8 L427.3,532.3 L428.1,479.1 L428.7,559.4 L428.9,534.9 L429.7,490.9 L430.5,524.3 L430.5,487.7 L431.3,496.5 L432.1,518.1 L432.9,500.1 L433.3,492.3 L433.7,518.9 L434.5,503.5 L434.7,520.1 L435.3,513.9 L436.1,506.7 L436.9,515.3 L437.7,505.7 L438.5,514.0 L439.2,515.5 L439.3,503.9 L440.1,519.4 L440.9,500.9 L441.7,519.4 L441.9,524.7 L442.5,500.8 L443.3,519.4 L444.1,503.7 L444.7,492.3 L444.9,522.7 L445.7,495.2 L446.1,524.7 L446.5,525.0 L447.3,495.9 L448.1,528.7 L448.9,478.4 L448.9,492.9 L449.7,524.2 L450.3,529.3 L450.5,488.3 L451.3,529.1 L451.7,554.8 L452.1,485.0 L452.9,528.1 L453.5,450.7 L453.7,498.1 L454.5,532.1 L454.9,524.7 L455.3,499.0 L456.1,530.4 L456.3,464.5 L456.9,494.4 L457.2,451.8 L457.7,527.9 L458.1,612.6 L458.5,503.0 L459.1,485.4 L459.3,523.3 L460.1,496.5 L460.5,501.6 L460.9,516.9 L461.7,496.5 L462.3,492.3 L462.5,518.0 L463.3,498.2 L463.7,534.0 L464.1,522.6 L464.9,493.4 L465.1,559.4 L465.7,518.8 L466.0,471.5 L466.5,499.8 L467.3,525.2 L467.4,515.5 L468.1,496.8 L468.9,520.0 L469.2,534.0 L469.7,504.2 L470.5,519.2 L470.6,501.6 L471.3,504.2 L472.1,516.1 L472.9,502.5 L473.4,510.8 L473.7,516.3 L474.5,501.2 L474.8,522.4 L475.3,519.6 L476.1,501.9 L476.9,520.1 L477.7,500.4 L478.0,496.9 L478.5,522.7 L479.0,527.0 L479.3,497.9 L480.1,519.7 L480.8,499.3 L480.9,502.8 L481.7,526.7 L482.5,500.3 L482.7,534.0 L483.3,522.7 L484.1,489.5 L484.5,501.6 L484.9,534.3 L485.4,552.5 L485.7,482.5 L486.4,473.8 L486.5,532.2 L487.3,486.1 L487.8,566.4 L488.1,541.8 L488.7,446.0 L488.9,478.9 L489.6,510.8 L489.7,534.3 L490.5,501.2 L491.0,448.4 L491.3,523.3 L491.9,589.5 L492.1,502.5 L492.8,455.3 L492.9,530.9 L493.7,497.0 L494.2,520.1 L494.5,519.7 L495.2,457.6 L495.3,498.1 L496.1,561.7 L496.1,519.1 L496.9,499.8 L497.5,496.9 L497.7,523.3 L498.5,499.6 L499.3,517.5 L499.8,501.6 L500.1,501.1 L500.9,517.4 L501.6,492.3 L501.7,504.3 L502.5,515.8 L503.3,504.4 L504.1,514.5 L504.4,520.1 L504.9,505.7 L505.7,516.4 L506.5,504.2 L507.3,514.9 L508.1,502.1 L508.9,523.5 L509.7,498.4 L510.4,490.0 L510.5,520.9 L511.3,503.5 L511.8,531.6 L512.1,525.5 L512.9,490.6 L513.7,517.2 L514.1,492.3 L514.5,502.4 L515.3,532.5 L516.0,466.9 L516.1,485.8 L516.9,531.8 L517.4,540.9 L517.7,485.6 L518.5,530.1 L518.8,501.6 L519.3,490.2 L520.1,534.7 L520.1,547.8 L520.9,491.0 L521.5,448.4 L521.7,534.3 L522.5,495.2 L522.8,492.3 L523.3,541.0 L523.7,457.6 L524.1,487.6 L524.6,552.5 L524.9,525.3 L525.7,497.6 L526.0,473.8 L526.5,536.0 L527.3,494.8 L527.4,554.8 L528.1,525.6 L528.8,492.3 L528.9,505.3 L529.7,528.0 L530.5,496.1 L530.6,487.7 L531.3,526.0 L532.0,473.8 L532.1,502.8 L532.9,523.5 L533.0,469.2 L533.7,498.5 L534.3,501.6 L534.5,522.3 L535.3,500.6 L536.1,518.7 L536.2,510.8 L536.9,507.5 L537.7,518.3 L538.0,496.9 L538.5,508.7 L539.3,513.7 L540.1,506.4 L540.9,513.3 L541.7,506.2 L542.5,517.5 L543.1,501.6 L543.3,506.5 L544.1,520.1 L544.1,519.0 L544.9,501.1 L545.7,514.3 L546.4,496.9 L546.5,501.4 L547.3,523.7 L547.8,531.6 L548.1,496.2 L548.9,522.4 L549.2,510.8 L549.7,492.4 L550.1,466.9 L550.5,525.4 L551.3,498.0 L551.5,520.1 L552.1,527.2 L552.9,540.9 L552.9,491.6 L553.7,530.3 L553.8,478.4 L554.5,492.7 L555.2,515.5 L555.3,519.3 L556.1,485.4 L556.1,492.4 L556.9,524.8 L557.5,478.4 L557.7,489.5 L558.5,517.7 L558.9,476.1 L559.3,488.4 L560.1,531.6 L560.3,547.8 L560.9,502.2 L561.6,515.5 L561.7,514.7 L562.5,490.3 L563.0,480.7 L563.3,527.3 L564.0,524.7 L564.1,500.7 L564.9,525.0 L565.7,500.4 L565.8,485.4 L566.5,520.9 L567.3,501.8 L567.7,501.6 L568.1,518.3 L568.9,501.2 L569.7,518.5 L570.5,502.8 L570.9,501.6 L571.3,517.0 L572.1,504.6 L572.3,522.4 L572.9,515.2 L573.7,506.4 L574.5,516.3 L575.3,509.6 L575.5,501.6 L576.1,518.5 L576.9,506.2 L576.9,496.9 L577.7,520.8 L578.5,506.8 L579.2,536.3 L579.3,522.9 L580.1,496.8 L580.6,510.8 L580.9,524.7 L581.7,502.5 L582.0,473.8 L582.5,530.2 L583.3,494.9 L583.4,469.2 L584.1,526.4 L584.3,543.2 L584.9,485.5 L585.7,539.6 L585.7,492.3 L586.5,496.4 L587.1,466.9 L587.3,536.7 L588.1,478.6 L588.5,557.1 L588.9,537.7 L589.7,470.4 L589.9,429.8 L590.5,548.9 L590.8,580.2 L591.3,495.2 L592.1,535.6 L592.2,462.2 L592.9,492.2 L593.6,580.2 L593.7,543.2 L594.5,477.6 L595.0,464.5 L595.3,526.7 L596.1,497.0 L596.9,525.3 L597.3,545.5 L597.7,493.3 L598.5,526.7 L599.3,498.7 L600.1,492.3 L600.1,520.2 L600.9,498.5 L601.7,521.1 L601.9,531.6 L602.5,501.7 L603.3,513.1 L603.8,501.6 L604.1,505.6 L604.9,515.0 L605.7,505.8 L606.5,516.6 L607.3,504.7 L608.1,515.9 L608.9,500.9 L609.7,523.5 L610.5,496.3 L610.6,496.9 L611.3,529.2 L612.1,493.3 L612.4,510.8 L612.9,526.1 L613.7,496.3 L614.3,487.7 L614.5,535.0 L615.3,485.6 L615.6,566.4 L616.1,534.7 L616.6,454.1 L616.9,485.3 L617.7,532.1 L618.0,501.6 L618.5,487.9 L619.3,533.6 L620.1,493.9 L620.9,532.2 L621.2,480.7 L621.7,483.9 L622.5,524.8 L622.6,487.7 L623.3,480.7 L623.5,571.0 L624.1,534.3 L624.9,494.8 L625.4,471.5 L625.7,523.8 L626.5,506.2 L626.7,529.3 L627.3,535.3 L628.1,496.7 L628.6,485.4 L628.9,535.1 L629.7,491.8 L630.0,550.2 L630.5,521.0 L631.3,498.1 L631.4,492.3 L632.1,524.8 L632.8,550.2 L632.9,492.1 L633.7,524.7 L634.5,501.3 L634.6,496.9 L635.3,528.4 L636.1,497.4 L636.5,510.8 L636.9,517.1 L637.4,471.5 L637.7,496.1 L638.5,522.2 L638.8,538.6 L639.3,502.4 L640.1,515.9 L640.6,510.8 L640.9,502.9 L641.7,514.4 L642.5,502.7 L643.3,519.2 L644.1,501.8 L644.3,510.8 L644.9,520.9 L645.7,499.5 L645.7,494.6 L646.5,520.6 L647.1,531.6 L647.3,499.5 L648.1,516.1 L648.5,494.6 L648.9,501.6 L649.7,521.0 L649.9,538.6 L650.5,503.8 L651.3,496.9 L651.3,516.9 L652.1,496.5 L652.9,526.8 L653.6,506.2 L653.7,502.3 L654.5,528.4 L655.0,485.4 L655.3,497.7 L656.1,526.0 L656.4,547.8 L656.9,483.4 L657.7,536.8 L657.8,439.1 L658.5,482.3 L658.7,422.9 L659.3,532.5 L659.6,573.3 L660.1,480.4 L660.9,541.7 L661.0,443.7 L661.7,488.6 L662.4,564.0 L662.5,535.8 L663.3,492.6 L663.3,450.7 L664.1,533.2 L664.2,561.7 L664.9,497.4 L665.6,487.7 L665.7,527.1 L666.5,493.0 L667.0,522.4 L667.3,524.7 L668.1,498.4 L668.4,490.0 L668.9,517.3 L669.3,471.5 L669.7,498.6 L670.5,521.1 L670.7,531.6 L671.3,499.8 L672.1,520.9 L672.9,501.6 L673.5,503.9 L673.7,517.7 L674.5,503.8 L675.3,513.9 L676.1,508.8 L676.9,515.9 L677.7,504.4 L678.1,506.2 L678.5,519.8 L679.3,503.0 L680.1,522.7 L680.4,510.8 L680.9,492.1 L681.5,485.4 L681.7,529.9 L682.5,483.9 L682.9,529.3 L683.3,529.2 L684.1,482.3 L684.2,469.2 L684.9,536.0 L685.2,538.6 L685.7,479.9 L686.5,532.2 L687.0,483.1 L687.3,478.3 L688.1,531.1 L688.9,455.3 L688.9,482.7 L689.7,541.0 L689.8,577.9 L690.5,483.0 L690.7,483.1 L691.3,532.9 L692.1,489.0 L692.1,552.5 L692.9,531.2 L693.7,488.2 L694.0,483.1 L694.5,532.9 L695.3,488.9 L695.3,455.3 L696.1,526.3 L696.7,554.8 L696.9,495.4 L697.7,534.3 L698.1,496.9 L698.5,486.7 L699.3,522.2 L700.0,464.5 L700.1,493.3 L700.9,528.6 L700.9,564.0 L701.7,496.9 L702.3,464.5 L702.5,529.1 L703.3,494.1 L703.7,534.0 L704.1,524.9 L704.9,496.1 L705.5,492.3 L705.7,517.1 L706.5,497.8 L707.3,521.2 L708.1,505.7 L708.3,510.8 L708.9,518.4 L709.7,504.2 L710.5,516.7 L710.6,501.6 L711.3,502.6 L712.1,519.7 L712.5,490.0 L712.9,496.4 L713.7,526.6 L713.9,547.8 L714.5,501.3 L715.2,487.7 L715.3,527.0 L716.1,498.5 L716.6,478.4 L716.9,534.9 L717.7,489.9 L718.0,545.5 L718.5,532.9 L719.3,490.1 L719.9,494.6 L720.1,538.7 L720.9,494.5 L721.3,469.2 L721.7,525.4 L722.2,520.1 L722.5,478.2 L723.1,547.8 L723.3,533.8 L724.0,473.8 L724.1,490.4 L724.3,407.9 L724.9,523.6 L724.3,568.7" fill="none" stroke="#b01c1c" stroke-width="2.0" stroke-linejoin="miter" stroke-miterlimit="2"/><path d="M184.8,391.7 L184.8,534.0 L184.8,441.4 L184.8,575.6 L184.8,432.2 L184.8,561.7 L184.9,446.0 L184.9,459.0 L185.1,580.2 L185.6,459.9 L185.7,559.8 L185.8,571.0 L186.0,441.4 L186.5,448.4 L186.5,445.2 L186.9,575.6 L187.2,469.2 L187.3,546.0 L187.6,580.2 L187.9,459.9 L188.1,595.3 L188.1,459.1 L188.6,469.2 L188.8,575.6 L188.9,570.6 L189.3,453.0 L189.7,484.2 L189.7,561.7 L189.9,464.5 L190.2,584.9 L190.5,525.5 L190.6,492.3 L190.9,547.8 L191.3,495.1 L192.0,485.4 L192.1,526.3 L192.9,498.5 L193.7,516.5 L193.9,536.3 L194.5,503.4 L195.3,480.7 L195.3,517.5 L196.1,506.8 L196.9,516.6 L197.7,502.4 L198.5,519.9 L199.3,502.2 L200.1,519.9 L200.9,500.2 L201.7,525.2 L202.2,487.7 L202.5,492.3 L203.3,527.6 L204.1,497.6 L204.9,530.3 L205.7,496.3 L206.5,527.0 L207.3,498.0 L207.3,492.3 L208.1,516.4 L208.9,493.3 L209.7,534.2 L210.1,473.8 L210.5,483.2 L211.3,538.0 L212.1,482.2 L212.9,566.4 L212.9,532.4 L213.7,485.1 L214.5,532.6 L215.3,480.2 L216.1,529.6 L216.6,547.8 L216.9,476.6 L217.7,533.1 L218.4,446.0 L218.5,475.5 L219.3,532.6 L220.1,478.1 L220.3,577.9 L220.9,531.0 L221.7,484.0 L222.5,527.6 L222.6,469.2 L223.3,498.1 L224.1,519.1 L224.9,490.7 L225.3,543.2 L225.7,527.7 L226.5,494.0 L227.3,525.9 L227.7,534.0 L228.1,502.3 L228.9,520.4 L229.7,504.3 L230.5,516.4 L231.3,507.4 L232.1,514.0 L232.9,509.6 L233.7,514.5 L234.5,508.8 L235.3,515.4 L236.1,511.7 L236.9,519.4 L237.7,509.7 L238.5,521.2 L239.3,502.0 L240.1,528.3 L240.9,494.9 L241.7,541.0 L242.0,566.4 L242.5,482.6 L243.3,542.4 L243.4,441.4 L244.1,480.0 L244.9,543.6 L245.7,471.4 L246.2,552.5 L246.5,535.6 L247.3,474.8 L248.1,542.7 L248.5,454.1 L248.9,498.5 L249.7,534.0 L250.3,552.5 L250.5,474.5 L251.3,540.3 L252.1,499.7 L252.2,478.4 L252.9,530.2 L253.7,500.4 L254.0,466.9 L254.5,539.1 L255.3,492.5 L255.4,557.1 L256.1,518.5 L256.9,479.5 L257.3,476.1 L257.7,527.6 L258.5,492.5 L258.7,545.5 L259.3,516.1 L260.1,496.5 L260.9,519.9 L261.0,492.3 L261.7,499.6 L262.5,512.5 L263.3,505.5 L263.8,487.7 L264.1,515.8 L264.9,505.7 L265.7,514.3 L266.5,506.5 L267.3,516.1 L268.1,502.3 L268.9,523.7 L269.7,504.9 L270.5,520.6 L270.8,547.8 L271.3,491.8 L272.1,530.1 L272.9,499.5 L273.1,487.7 L273.7,523.9 L274.5,489.9 L275.3,531.3 L275.4,466.9 L276.1,491.2 L276.9,530.5 L277.0,545.5 L277.7,492.9 L278.5,518.3 L279.3,488.8 L280.0,483.1 L280.1,532.9 L280.9,499.7 L281.7,534.0 L281.7,530.8 L282.5,485.5 L283.0,463.4 L283.3,535.0 L284.1,488.5 L284.7,559.4 L284.9,537.7 L285.7,486.3 L286.3,471.5 L286.5,531.2 L287.3,488.5 L288.1,527.9 L288.1,534.0 L288.9,485.3 L289.7,528.7 L290.5,480.7 L290.9,471.5 L291.3,514.2 L292.1,484.9 L292.8,520.1 L292.9,523.0 L293.7,490.6 L294.5,517.4 L295.3,496.5 L296.1,517.2 L296.9,504.7 L297.7,511.0 L298.5,503.3 L299.3,515.7 L300.1,507.8 L300.9,514.0 L301.7,506.9 L302.5,516.2 L303.3,507.7 L303.9,522.4 L304.1,518.3 L304.9,502.6 L305.7,516.5 L306.5,502.1 L306.6,501.6 L307.3,520.3 L308.1,498.8 L308.9,520.7 L309.7,495.4 L310.3,487.7 L310.5,536.8 L311.3,559.4 L311.3,484.5 L312.1,542.8 L312.2,420.6 L312.9,477.4 L313.7,532.7 L314.1,469.2 L314.5,492.3 L315.3,534.0 L315.4,547.8 L316.1,483.3 L316.8,434.5 L316.9,539.5 L317.7,482.7 L318.2,540.9 L318.5,534.4 L319.3,482.5 L319.6,464.5 L320.1,528.6 L320.5,543.2 L320.9,494.6 L321.7,434.5 L321.7,529.9 L322.4,573.3 L322.5,492.0 L323.3,530.4 L323.8,483.1 L324.1,487.1 L324.9,521.6 L325.6,478.4 L325.7,495.4 L326.5,527.6 L327.0,529.3 L327.3,498.5 L328.1,527.6 L328.4,476.1 L328.9,498.3 L329.7,525.7 L330.2,496.9 L330.5,506.1 L331.3,518.1 L332.1,508.5 L332.9,518.8 L333.5,501.6 L333.7,504.9 L334.5,512.0 L335.3,504.2 L336.1,517.2 L336.9,500.5 L337.7,516.8 L338.5,498.1 L339.3,519.2 L339.5,496.9 L340.1,502.2 L340.9,531.9 L341.7,501.8 L342.5,536.0 L342.7,545.5 L343.3,489.7 L344.1,535.7 L344.6,446.0 L344.9,479.7 L345.7,533.2 L346.0,561.7 L346.5,489.1 L347.3,532.5 L347.8,478.4 L348.1,499.6 L348.9,532.1 L349.7,496.3 L350.5,539.3 L351.1,534.0 L351.3,482.9 L352.1,537.2 L352.8,463.4 L352.9,475.9 L353.7,537.8 L354.5,483.6 L354.6,550.2 L355.3,540.7 L356.1,493.6 L356.5,476.1 L356.9,516.4 L357.7,485.1 L357.9,543.2 L358.5,536.4 L359.3,495.0 L359.7,480.7 L360.1,522.3 L360.9,487.6 L361.1,538.6 L361.7,527.9 L362.0,462.2 L362.5,483.3 L363.3,531.5 L363.9,529.3 L364.1,488.5 L364.9,521.1 L365.7,496.4 L365.7,466.9 L366.5,519.6 L367.3,504.3 L367.6,506.2 L368.1,513.2 L368.9,508.0 L369.7,514.4 L370.5,508.6 L371.3,514.4 L372.1,508.5 L372.9,521.2 L373.7,500.9 L374.1,480.7 L374.5,521.7 L375.0,536.3 L375.3,494.8 L376.1,526.7 L376.9,490.1 L377.3,487.7 L377.7,533.6 L378.5,491.3 L379.2,473.8 L379.3,532.2 L380.1,491.8 L380.9,535.5 L381.0,483.1 L381.7,486.0 L382.5,522.1 L382.9,545.5 L383.3,490.2 L384.1,522.4 L384.2,487.7 L384.9,489.1 L385.7,528.4 L385.9,471.5 L386.5,475.2 L387.0,557.1 L387.3,533.5 L388.1,485.6 L388.2,462.2 L388.9,414.8 L388.9,529.9 L389.7,487.8 L389.8,534.0 L390.5,532.9 L390.7,569.8 L391.3,499.7 L391.6,470.3 L392.1,524.6 L392.9,495.9 L393.0,529.3 L393.7,519.4 L394.5,495.6 L395.3,517.3 L395.3,510.8 L396.1,501.8 L396.9,513.3 L397.7,492.3 L397.7,497.7 L398.5,515.6 L399.3,498.7 L399.5,496.9 L400.1,513.5 L400.9,506.5 L401.4,522.4 L401.7,513.8 L402.5,503.0 L403.3,515.8 L403.7,501.6 L404.1,504.5 L404.9,517.6 L405.7,506.6 L406.5,516.9 L407.3,505.5 L407.4,527.0 L408.1,516.4 L408.8,498.1 L408.9,506.9 L409.7,516.3 L410.5,506.9 L411.3,518.4 L412.1,506.4 L412.9,520.0 L412.9,529.3 L413.7,498.9 L414.5,528.1 L415.3,494.8 L416.1,529.1 L416.2,485.4 L416.9,497.7 L417.6,540.9 L417.7,528.4 L418.5,449.5 L418.5,481.6 L419.3,524.3 L419.9,577.9 L420.1,484.8 L420.9,526.7 L421.3,478.4 L421.7,491.5 L422.5,521.2 L422.7,457.6 L423.3,481.3 L424.0,534.0 L424.1,531.3 L424.9,485.7 L425.7,528.0 L426.5,476.5 L426.8,458.8 L427.3,532.3 L428.1,479.1 L428.7,559.4 L428.9,534.9 L429.7,490.9 L430.5,524.3 L430.5,487.7 L431.3,496.5 L432.1,518.1 L432.9,500.1 L433.3,492.3 L433.7,518.9 L434.5,503.5 L434.7,520.1 L435.3,513.9 L436.1,506.7 L436.9,515.3 L437.7,505.7 L438.5,514.0 L439.2,515.5 L439.3,503.9 L440.1,519.4 L440.9,500.9 L441.7,519.4 L441.9,524.7 L442.5,500.8 L443.3,519.4 L444.1,503.7 L444.7,492.3 L444.9,522.7 L445.7,495.2 L446.1,524.7 L446.5,525.0 L447.3,495.9 L448.1,528.7 L448.9,478.4 L448.9,492.9 L449.7,524.2 L450.3,529.3 L450.5,488.3 L451.3,529.1 L451.7,554.8 L452.1,485.0 L452.9,528.1 L453.5,450.7 L453.7,498.1 L454.5,532.1 L454.9,524.7 L455.3,499.0 L456.1,530.4 L456.3,464.5 L456.9,494.4 L457.2,451.8 L457.7,527.9 L458.1,612.6 L458.5,503.0 L459.1,485.4 L459.3,523.3 L460.1,496.5 L460.5,501.6 L460.9,516.9 L461.7,496.5 L462.3,492.3 L462.5,518.0 L463.3,498.2 L463.7,534.0 L464.1,522.6 L464.9,493.4 L465.1,559.4 L465.7,518.8 L466.0,471.5 L466.5,499.8 L467.3,525.2 L467.4,515.5 L468.1,496.8 L468.9,520.0 L469.2,534.0 L469.7,504.2 L470.5,519.2 L470.6,501.6 L471.3,504.2 L472.1,516.1 L472.9,502.5 L473.4,510.8 L473.7,516.3 L474.5,501.2 L474.8,522.4 L475.3,519.6 L476.1,501.9 L476.9,520.1 L477.7,500.4 L478.0,496.9 L478.5,522.7 L479.0,527.0 L479.3,497.9 L480.1,519.7 L480.8,499.3 L480.9,502.8 L481.7,526.7 L482.5,500.3 L482.7,534.0 L483.3,522.7 L484.1,489.5 L484.5,501.6 L484.9,534.3 L485.4,552.5 L485.7,482.5 L486.4,473.8 L486.5,532.2 L487.3,486.1 L487.8,566.4 L488.1,541.8 L488.7,446.0 L488.9,478.9 L489.6,510.8 L489.7,534.3 L490.5,501.2 L491.0,448.4 L491.3,523.3 L491.9,589.5 L492.1,502.5 L492.8,455.3 L492.9,530.9 L493.7,497.0 L494.2,520.1 L494.5,519.7 L495.2,457.6 L495.3,498.1 L496.1,561.7 L496.1,519.1 L496.9,499.8 L497.5,496.9 L497.7,523.3 L498.5,499.6 L499.3,517.5 L499.8,501.6 L500.1,501.1 L500.9,517.4 L501.6,492.3 L501.7,504.3 L502.5,515.8 L503.3,504.4 L504.1,514.5 L504.4,520.1 L504.9,505.7 L505.7,516.4 L506.5,504.2 L507.3,514.9 L508.1,502.1 L508.9,523.5 L509.7,498.4 L510.4,490.0 L510.5,520.9 L511.3,503.5 L511.8,531.6 L512.1,525.5 L512.9,490.6 L513.7,517.2 L514.1,492.3 L514.5,502.4 L515.3,532.5 L516.0,466.9 L516.1,485.8 L516.9,531.8 L517.4,540.9 L517.7,485.6 L518.5,530.1 L518.8,501.6 L519.3,490.2 L520.1,534.7 L520.1,547.8 L520.9,491.0 L521.5,448.4 L521.7,534.3 L522.5,495.2 L522.8,492.3 L523.3,541.0 L523.7,457.6 L524.1,487.6 L524.6,552.5 L524.9,525.3 L525.7,497.6 L526.0,473.8 L526.5,536.0 L527.3,494.8 L527.4,554.8 L528.1,525.6 L528.8,492.3 L528.9,505.3 L529.7,528.0 L530.5,496.1 L530.6,487.7 L531.3,526.0 L532.0,473.8 L532.1,502.8 L532.9,523.5 L533.0,469.2 L533.7,498.5 L534.3,501.6 L534.5,522.3 L535.3,500.6 L536.1,518.7 L536.2,510.8 L536.9,507.5 L537.7,518.3 L538.0,496.9 L538.5,508.7 L539.3,513.7 L540.1,506.4 L540.9,513.3 L541.7,506.2 L542.5,517.5 L543.1,501.6 L543.3,506.5 L544.1,520.1 L544.1,519.0 L544.9,501.1 L545.7,514.3 L546.4,496.9 L546.5,501.4 L547.3,523.7 L547.8,531.6 L548.1,496.2 L548.9,522.4 L549.2,510.8 L549.7,492.4 L550.1,466.9 L550.5,525.4 L551.3,498.0 L551.5,520.1 L552.1,527.2 L552.9,540.9 L552.9,491.6 L553.7,530.3 L553.8,478.4 L554.5,492.7 L555.2,515.5 L555.3,519.3 L556.1,485.4 L556.1,492.4 L556.9,524.8 L557.5,478.4 L557.7,489.5 L558.5,517.7 L558.9,476.1 L559.3,488.4 L560.1,531.6 L560.3,547.8 L560.9,502.2 L561.6,515.5 L561.7,514.7 L562.5,490.3 L563.0,480.7 L563.3,527.3 L564.0,524.7 L564.1,500.7 L564.9,525.0 L565.7,500.4 L565.8,485.4 L566.5,520.9 L567.3,501.8 L567.7,501.6 L568.1,518.3 L568.9,501.2 L569.7,518.5 L570.5,502.8 L570.9,501.6 L571.3,517.0 L572.1,504.6 L572.3,522.4 L572.9,515.2 L573.7,506.4 L574.5,516.3 L575.3,509.6 L575.5,501.6 L576.1,518.5 L576.9,506.2 L576.9,496.9 L577.7,520.8 L578.5,506.8 L579.2,536.3 L579.3,522.9 L580.1,496.8 L580.6,510.8 L580.9,524.7 L581.7,502.5 L582.0,473.8 L582.5,530.2 L583.3,494.9 L583.4,469.2 L584.1,526.4 L584.3,543.2 L584.9,485.5 L585.7,539.6 L585.7,492.3 L586.5,496.4 L587.1,466.9 L587.3,536.7 L588.1,478.6 L588.5,557.1 L588.9,537.7 L589.7,470.4 L589.9,429.8 L590.5,548.9 L590.8,580.2 L591.3,495.2 L592.1,535.6 L592.2,462.2 L592.9,492.2 L593.6,580.2 L593.7,543.2 L594.5,477.6 L595.0,464.5 L595.3,526.7 L596.1,497.0 L596.9,525.3 L597.3,545.5 L597.7,493.3 L598.5,526.7 L599.3,498.7 L600.1,492.3 L600.1,520.2 L600.9,498.5 L601.7,521.1 L601.9,531.6 L602.5,501.7 L603.3,513.1 L603.8,501.6 L604.1,505.6 L604.9,515.0 L605.7,505.8 L606.5,516.6 L607.3,504.7 L608.1,515.9 L608.9,500.9 L609.7,523.5 L610.5,496.3 L610.6,496.9 L611.3,529.2 L612.1,493.3 L612.4,510.8 L612.9,526.1 L613.7,496.3 L614.3,487.7 L614.5,535.0 L615.3,485.6 L615.6,566.4 L616.1,534.7 L616.6,454.1 L616.9,485.3 L617.7,532.1 L618.0,501.6 L618.5,487.9 L619.3,533.6 L620.1,493.9 L620.9,532.2 L621.2,480.7 L621.7,483.9 L622.5,524.8 L622.6,487.7 L623.3,480.7 L623.5,571.0 L624.1,534.3 L624.9,494.8 L625.4,471.5 L625.7,523.8 L626.5,506.2 L626.7,529.3 L627.3,535.3 L628.1,496.7 L628.6,485.4 L628.9,535.1 L629.7,491.8 L630.0,550.2 L630.5,521.0 L631.3,498.1 L631.4,492.3 L632.1,524.8 L632.8,550.2 L632.9,492.1 L633.7,524.7 L634.5,501.3 L634.6,496.9 L635.3,528.4 L636.1,497.4 L636.5,510.8 L636.9,517.1 L637.4,471.5 L637.7,496.1 L638.5,522.2 L638.8,538.6 L639.3,502.4 L640.1,515.9 L640.6,510.8 L640.9,502.9 L641.7,514.4 L642.5,502.7 L643.3,519.2 L644.1,501.8 L644.3,510.8 L644.9,520.9 L645.7,499.5 L645.7,494.6 L646.5,520.6 L647.1,531.6 L647.3,499.5 L648.1,516.1 L648.5,494.6 L648.9,501.6 L649.7,521.0 L649.9,538.6 L650.5,503.8 L651.3,496.9 L651.3,516.9 L652.1,496.5 L652.9,526.8 L653.6,506.2 L653.7,502.3 L654.5,528.4 L655.0,485.4 L655.3,497.7 L656.1,526.0 L656.4,547.8 L656.9,483.4 L657.7,536.8 L657.8,439.1 L658.5,482.3 L658.7,422.9 L659.3,532.5 L659.6,573.3 L660.1,480.4 L660.9,541.7 L661.0,443.7 L661.7,488.6 L662.4,564.0 L662.5,535.8 L663.3,492.6 L663.3,450.7 L664.1,533.2 L664.2,561.7 L664.9,497.4 L665.6,487.7 L665.7,527.1 L666.5,493.0 L667.0,522.4 L667.3,524.7 L668.1,498.4 L668.4,490.0 L668.9,517.3 L669.3,471.5 L669.7,498.6 L670.5,521.1 L670.7,531.6 L671.3,499.8 L672.1,520.9 L672.9,501.6 L673.5,503.9 L673.7,517.7 L674.5,503.8 L675.3,513.9 L676.1,508.8 L676.9,515.9 L677.7,504.4 L678.1,506.2 L678.5,519.8 L679.3,503.0 L680.1,522.7 L680.4,510.8 L680.9,492.1 L681.5,485.4 L681.7,529.9 L682.5,483.9 L682.9,529.3 L683.3,529.2 L684.1,482.3 L684.2,469.2 L684.9,536.0 L685.2,538.6 L685.7,479.9 L686.5,532.2 L687.0,483.1 L687.3,478.3 L688.1,531.1 L688.9,455.3 L688.9,482.7 L689.7,541.0 L689.8,577.9 L690.5,483.0 L690.7,483.1 L691.3,532.9 L692.1,489.0 L692.1,552.5 L692.9,531.2 L693.7,488.2 L694.0,483.1 L694.5,532.9 L695.3,488.9 L695.3,455.3 L696.1,526.3 L696.7,554.8 L696.9,495.4 L697.7,534.3 L698.1,496.9 L698.5,486.7 L699.3,522.2 L700.0,464.5 L700.1,493.3 L700.9,528.6 L700.9,564.0 L701.7,496.9 L702.3,464.5 L702.5,529.1 L703.3,494.1 L703.7,534.0 L704.1,524.9 L704.9,496.1 L705.5,492.3 L705.7,517.1 L706.5,497.8 L707.3,521.2 L708.1,505.7 L708.3,510.8 L708.9,518.4 L709.7,504.2 L710.5,516.7 L710.6,501.6 L711.3,502.6 L712.1,519.7 L712.5,490.0 L712.9,496.4 L713.7,526.6 L713.9,547.8 L714.5,501.3 L715.2,487.7 L715.3,527.0 L716.1,498.5 L716.6,478.4 L716.9,534.9 L717.7,489.9 L718.0,545.5 L718.5,532.9 L719.3,490.1 L719.9,494.6 L720.1,538.7 L720.9,494.5 L721.3,469.2 L721.7,525.4 L722.2,520.1 L722.5,478.2 L723.1,547.8 L723.3,533.8 L724.0,473.8 L724.1,490.4 L724.3,407.9 L724.9,523.6 L724.3,568.7" fill="none" stroke="#ee1414" stroke-width="1.0" stroke-linejoin="miter" stroke-miterlimit="2"/>
<line x1="180.3" y1="618.5" x2="184.3" y2="618.5" stroke="#222" stroke-width="1.2"/>
<line x1="180.3" y1="605.5" x2="184.3" y2="605.5" stroke="#222" stroke-width="1.2"/>
<line x1="180.3" y1="591.5" x2="184.3" y2="591.5" stroke="#222" stroke-width="1.2"/>
<line x1="180.3" y1="578.5" x2="184.3" y2="578.5" stroke="#222" stroke-width="1.2"/>
<line x1="180.3" y1="564.5" x2="184.3" y2="564.5" stroke="#222" stroke-width="1.2"/>
<line x1="180.3" y1="551.5" x2="184.3" y2="551.5" stroke="#222" stroke-width="1.2"/>
<line x1="180.3" y1="537.5" x2="184.3" y2="537.5" stroke="#222" stroke-width="1.2"/>
<line x1="180.3" y1="524.5" x2="184.3" y2="524.5" stroke="#222" stroke-width="1.2"/>
<line x1="180.3" y1="510.5" x2="184.3" y2="510.5" stroke="#222" stroke-width="1.2"/>
<line x1="180.3" y1="497.5" x2="184.3" y2="497.5" stroke="#222" stroke-width="1.2"/>
<line x1="180.3" y1="483.5" x2="184.3" y2="483.5" stroke="#222" stroke-width="1.2"/>
<line x1="180.3" y1="470.5" x2="184.3" y2="470.5" stroke="#222" stroke-width="1.2"/>
<line x1="180.3" y1="457.5" x2="184.3" y2="457.5" stroke="#222" stroke-width="1.2"/>
<line x1="180.3" y1="443.5" x2="184.3" y2="443.5" stroke="#222" stroke-width="1.2"/>
<line x1="180.3" y1="430.5" x2="184.3" y2="430.5" stroke="#222" stroke-width="1.2"/>
<line x1="180.3" y1="416.5" x2="184.3" y2="416.5" stroke="#222" stroke-width="1.2"/>
<line x1="180.3" y1="403.5" x2="184.3" y2="403.5" stroke="#222" stroke-width="1.2"/>
<line x1="180.3" y1="389.5" x2="184.3" y2="389.5" stroke="#222" stroke-width="1.2"/>
<line x1="180.3" y1="376.5" x2="184.3" y2="376.5" stroke="#222" stroke-width="1.2"/>
<line x1="184.5" y1="618.5" x2="184.5" y2="622.0" stroke="#222" stroke-width="1.2"/>
<line x1="238.5" y1="618.5" x2="238.5" y2="622.0" stroke="#222" stroke-width="1.2"/>
<line x1="292.5" y1="618.5" x2="292.5" y2="622.0" stroke="#222" stroke-width="1.2"/>
<line x1="346.5" y1="618.5" x2="346.5" y2="622.0" stroke="#222" stroke-width="1.2"/>
<line x1="400.5" y1="618.5" x2="400.5" y2="622.0" stroke="#222" stroke-width="1.2"/>
<line x1="454.5" y1="618.5" x2="454.5" y2="622.0" stroke="#222" stroke-width="1.2"/>
<line x1="509.5" y1="618.5" x2="509.5" y2="622.0" stroke="#222" stroke-width="1.2"/>
<line x1="563.5" y1="618.5" x2="563.5" y2="622.0" stroke="#222" stroke-width="1.2"/>
<line x1="617.5" y1="618.5" x2="617.5" y2="622.0" stroke="#222" stroke-width="1.2"/>
<line x1="671.5" y1="618.5" x2="671.5" y2="622.0" stroke="#222" stroke-width="1.2"/>
<line x1="725.5" y1="618.5" x2="725.5" y2="622.0" stroke="#222" stroke-width="1.2"/>
<path d="M184.3,618.5 H725.5 V376.3 H184.3" fill="none" stroke="#1a1a1a" stroke-width="1.5"/>
<line x1="184.3" y1="375.55" x2="184.3" y2="619.25" stroke="#1a1a1a" stroke-width="1.5"/>
<rect x="193.5" y="384" width="138.8" height="16.5" rx="2" fill="#fff" stroke="#333" stroke-width="1.2"/>
<line x1="201" y1="393" x2="221.3" y2="393" stroke="#cc1f1f" stroke-width="2.2"/>
<text x="221.3" y="397" font-size="9.6" textLength="107" lengthAdjust="spacingAndGlyphs" fill="#b02a2a" font-family="'Liberation Sans', Arial, sans-serif">OFFSET(.plot_1.curve_1)</text>
<text x="178" y="621.90" font-size="9.6" text-anchor="end" fill="#111" font-family="'Liberation Sans', Arial, sans-serif">1.0</text>
<text x="178" y="594.99" font-size="9.6" text-anchor="end" fill="#111" font-family="'Liberation Sans', Arial, sans-serif">2.0</text>
<text x="178" y="568.08" font-size="9.6" text-anchor="end" fill="#111" font-family="'Liberation Sans', Arial, sans-serif">3.0</text>
<text x="178" y="541.17" font-size="9.6" text-anchor="end" fill="#111" font-family="'Liberation Sans', Arial, sans-serif">4.0</text>
<text x="178" y="514.26" font-size="9.6" text-anchor="end" fill="#111" font-family="'Liberation Sans', Arial, sans-serif">5.0</text>
<text x="178" y="487.34" font-size="9.6" text-anchor="end" fill="#111" font-family="'Liberation Sans', Arial, sans-serif">6.0</text>
<text x="178" y="460.43" font-size="9.6" text-anchor="end" fill="#111" font-family="'Liberation Sans', Arial, sans-serif">7.0</text>
<text x="178" y="433.52" font-size="9.6" text-anchor="end" fill="#111" font-family="'Liberation Sans', Arial, sans-serif">8.0</text>
<text x="178" y="406.61" font-size="9.6" text-anchor="end" fill="#111" font-family="'Liberation Sans', Arial, sans-serif">9.0</text>
<text x="178" y="379.70" font-size="9.6" text-anchor="end" fill="#111" font-family="'Liberation Sans', Arial, sans-serif">10.0</text>
<text x="184.30" y="631.5" font-size="9.6" text-anchor="middle" fill="#111" font-family="'Liberation Sans', Arial, sans-serif">0.0</text>
<text x="238.42" y="631.5" font-size="9.6" text-anchor="middle" fill="#111" font-family="'Liberation Sans', Arial, sans-serif">1.0</text>
<text x="292.54" y="631.5" font-size="9.6" text-anchor="middle" fill="#111" font-family="'Liberation Sans', Arial, sans-serif">2.0</text>
<text x="346.66" y="631.5" font-size="9.6" text-anchor="middle" fill="#111" font-family="'Liberation Sans', Arial, sans-serif">3.0</text>
<text x="400.78" y="631.5" font-size="9.6" text-anchor="middle" fill="#111" font-family="'Liberation Sans', Arial, sans-serif">4.0</text>
<text x="454.90" y="631.5" font-size="9.6" text-anchor="middle" fill="#111" font-family="'Liberation Sans', Arial, sans-serif">5.0</text>
<text x="509.02" y="631.5" font-size="9.6" text-anchor="middle" fill="#111" font-family="'Liberation Sans', Arial, sans-serif">6.0</text>
<text x="563.14" y="631.5" font-size="9.6" text-anchor="middle" fill="#111" font-family="'Liberation Sans', Arial, sans-serif">7.0</text>
<text x="617.26" y="631.5" font-size="9.6" text-anchor="middle" fill="#111" font-family="'Liberation Sans', Arial, sans-serif">8.0</text>
<text x="671.38" y="631.5" font-size="9.6" text-anchor="middle" fill="#111" font-family="'Liberation Sans', Arial, sans-serif">9.0</text>
<text x="725.50" y="631.5" font-size="9.6" text-anchor="middle" fill="#111" font-family="'Liberation Sans', Arial, sans-serif">10.0</text>
<text x="162.5" y="645.3" font-size="9.8" text-anchor="start" fill="#111" font-family="'Liberation Sans', Arial, sans-serif" >Analysis:</text>
<text x="455" y="645.3" font-size="9.8" text-anchor="middle" fill="#111" font-family="'Liberation Sans', Arial, sans-serif" >Time (sec)</text>
<text x="680.6" y="645.6" font-size="10.3" text-anchor="start" fill="#111" font-family="'Liberation Sans', Arial, sans-serif" textLength="89.8" lengthAdjust="spacingAndGlyphs">2018-04-24 10:22:52</text>
<text x="0" y="0" font-size="10" text-anchor="middle" fill="#111" font-family="'Liberation Sans', Arial, sans-serif" transform="translate(152.3,502.5) rotate(-90)" textLength="154" lengthAdjust="spacingAndGlyphs">Angular Velocity (revolutions/sec)</text>
<path d="M127.5,1037.6 V742.2 H787.6" fill="none" stroke="#777" stroke-width="1.8"/>
<path d="M787.6,742.2 V1037.6 H127.5" fill="none" stroke="#1a1a1a" stroke-width="1.8"/>
<line x1="214.5" y1="763.5" x2="214.5" y2="1002.5" stroke="#acacac" stroke-width="1"/>
<line x1="241.5" y1="763.5" x2="241.5" y2="1002.5" stroke="#a6a6a6" stroke-width="1"/>
<line x1="268.5" y1="763.5" x2="268.5" y2="1002.5" stroke="#acacac" stroke-width="1"/>
<line x1="295.5" y1="763.5" x2="295.5" y2="1002.5" stroke="#a6a6a6" stroke-width="1"/>
<line x1="322.5" y1="763.5" x2="322.5" y2="1002.5" stroke="#acacac" stroke-width="1"/>
<line x1="349.5" y1="763.5" x2="349.5" y2="1002.5" stroke="#a6a6a6" stroke-width="1"/>
<line x1="377.5" y1="763.5" x2="377.5" y2="1002.5" stroke="#acacac" stroke-width="1"/>
<line x1="404.5" y1="763.5" x2="404.5" y2="1002.5" stroke="#a6a6a6" stroke-width="1"/>
<line x1="431.5" y1="763.5" x2="431.5" y2="1002.5" stroke="#acacac" stroke-width="1"/>
<line x1="458.5" y1="763.5" x2="458.5" y2="1002.5" stroke="#a6a6a6" stroke-width="1"/>
<line x1="485.5" y1="763.5" x2="485.5" y2="1002.5" stroke="#acacac" stroke-width="1"/>
<line x1="512.5" y1="763.5" x2="512.5" y2="1002.5" stroke="#a6a6a6" stroke-width="1"/>
<line x1="539.5" y1="763.5" x2="539.5" y2="1002.5" stroke="#acacac" stroke-width="1"/>
<line x1="566.5" y1="763.5" x2="566.5" y2="1002.5" stroke="#a6a6a6" stroke-width="1"/>
<line x1="593.5" y1="763.5" x2="593.5" y2="1002.5" stroke="#acacac" stroke-width="1"/>
<line x1="621.5" y1="763.5" x2="621.5" y2="1002.5" stroke="#a6a6a6" stroke-width="1"/>
<line x1="648.5" y1="763.5" x2="648.5" y2="1002.5" stroke="#acacac" stroke-width="1"/>
<line x1="675.5" y1="763.5" x2="675.5" y2="1002.5" stroke="#a6a6a6" stroke-width="1"/>
<line x1="702.5" y1="763.5" x2="702.5" y2="1002.5" stroke="#acacac" stroke-width="1"/>
<line x1="187.2" y1="982.5" x2="729.5" y2="982.5" stroke="#aaaaaa" stroke-width="1"/>
<line x1="187.2" y1="962.5" x2="729.5" y2="962.5" stroke="#aaaaaa" stroke-width="1"/>
<line x1="187.2" y1="942.5" x2="729.5" y2="942.5" stroke="#aaaaaa" stroke-width="1"/>
<line x1="187.2" y1="922.5" x2="729.5" y2="922.5" stroke="#aaaaaa" stroke-width="1"/>
<line x1="187.2" y1="902.5" x2="729.5" y2="902.5" stroke="#aaaaaa" stroke-width="1"/>
<line x1="187.2" y1="882.5" x2="729.5" y2="882.5" stroke="#aaaaaa" stroke-width="1"/>
<line x1="187.2" y1="863.5" x2="729.5" y2="863.5" stroke="#aaaaaa" stroke-width="1"/>
<line x1="187.2" y1="843.5" x2="729.5" y2="843.5" stroke="#aaaaaa" stroke-width="1"/>
<line x1="187.2" y1="823.5" x2="729.5" y2="823.5" stroke="#aaaaaa" stroke-width="1"/>
<line x1="187.2" y1="803.5" x2="729.5" y2="803.5" stroke="#aaaaaa" stroke-width="1"/>
<line x1="187.2" y1="783.5" x2="729.5" y2="783.5" stroke="#aaaaaa" stroke-width="1"/>
<path d="M187.7,969.6 L187.7,942.3 L187.7,818.1 L187.8,867.9 L188.5,864.8 L188.6,902.0 L189.4,861.2 L189.8,919.5 L190.2,894.6 L191.0,862.8 L191.2,860.3 L191.8,905.9 L192.1,813.5 L192.6,870.0 L193.0,944.6 L193.4,890.2 L194.2,872.7 L194.4,864.8 L195.0,895.1 L195.8,873.1 L196.2,887.6 L196.6,888.4 L197.4,876.6 L197.6,867.1 L198.2,888.9 L198.9,878.5 L199.0,879.3 L199.8,886.6 L200.6,879.8 L201.4,885.4 L202.2,880.4 L203.0,885.6 L203.8,879.1 L204.6,889.0 L204.9,892.1 L205.4,874.1 L206.2,892.8 L206.2,896.7 L207.0,875.3 L207.2,905.8 L207.8,895.2 L208.1,862.5 L208.6,873.3 L209.4,895.6 L209.4,896.7 L210.2,877.7 L211.0,890.5 L211.3,887.6 L211.8,876.2 L212.6,897.6 L212.6,867.1 L213.4,871.1 L214.0,887.6 L214.2,899.1 L215.0,869.9 L215.4,910.4 L215.8,897.0 L216.6,869.5 L216.7,846.6 L217.4,900.1 L217.6,919.5 L218.2,864.9 L218.5,844.3 L219.0,898.4 L219.5,921.8 L219.8,863.0 L220.6,901.3 L220.8,858.0 L221.4,861.9 L222.2,905.8 L222.2,901.0 L223.0,861.6 L223.6,867.1 L223.8,898.5 L224.5,820.4 L224.6,863.1 L225.4,935.4 L225.4,895.2 L226.2,872.1 L226.3,860.3 L227.0,888.3 L227.8,865.7 L228.1,892.1 L228.6,894.5 L229.4,867.7 L229.9,867.1 L230.2,895.7 L231.0,874.1 L231.3,887.6 L231.8,893.6 L232.6,875.7 L232.7,901.3 L233.4,889.4 L234.2,879.2 L235.0,885.0 L235.8,881.4 L236.6,885.2 L237.4,879.0 L238.2,886.2 L239.0,880.6 L239.0,869.4 L239.8,894.5 L240.6,876.9 L240.9,899.0 L241.4,896.5 L242.2,869.3 L242.7,869.4 L243.0,901.8 L243.8,867.8 L244.5,896.7 L244.6,907.9 L245.4,862.8 L246.2,907.3 L246.8,862.5 L247.0,861.2 L247.8,909.2 L248.2,842.0 L248.6,853.6 L249.1,924.0 L249.4,905.6 L250.0,828.4 L250.2,856.2 L250.9,823.8 L251.0,916.0 L251.8,875.8 L251.8,949.1 L252.6,908.9 L252.7,846.6 L253.4,855.1 L254.1,928.6 L254.2,914.6 L255.0,879.3 L255.5,855.7 L255.8,903.8 L256.4,838.6 L256.6,880.1 L257.3,917.2 L257.4,908.5 L258.2,874.7 L258.6,853.4 L259.0,893.1 L259.8,866.1 L260.0,910.4 L260.6,898.5 L261.4,851.1 L261.4,873.9 L262.2,889.6 L263.0,874.3 L263.2,864.8 L263.8,893.2 L264.1,896.7 L264.6,874.6 L265.4,885.9 L265.5,864.8 L266.2,878.7 L267.0,887.9 L267.3,867.1 L267.8,877.7 L268.6,887.1 L268.7,887.6 L269.4,878.6 L270.2,887.8 L271.0,874.8 L271.8,892.3 L272.6,879.2 L273.4,888.8 L274.2,873.1 L274.8,871.6 L275.0,892.5 L275.7,896.7 L275.8,877.8 L276.6,889.7 L277.1,869.4 L277.4,873.1 L278.2,895.2 L278.9,889.9 L279.0,868.7 L279.8,898.0 L280.6,867.7 L280.8,871.6 L281.4,889.3 L282.2,864.1 L282.6,908.1 L283.0,901.9 L283.5,844.3 L283.8,874.0 L284.4,926.3 L284.6,899.7 L285.4,862.3 L285.8,846.6 L286.2,903.3 L287.0,865.3 L287.1,914.9 L287.8,905.7 L288.1,930.9 L288.6,864.3 L289.0,850.0 L289.4,897.6 L290.2,871.2 L290.8,887.6 L291.0,890.3 L291.8,874.0 L292.6,889.9 L293.1,873.9 L293.4,875.3 L294.2,885.8 L294.9,896.7 L295.0,874.7 L295.8,891.0 L296.3,908.1 L296.6,874.5 L297.2,862.5 L297.4,890.4 L298.2,875.4 L298.5,892.1 L299.0,890.6 L299.8,880.1 L299.9,887.6 L300.6,885.3 L301.3,864.8 L301.4,877.2 L302.2,889.7 L303.0,880.7 L303.5,887.6 L303.8,886.9 L304.6,880.2 L305.4,887.3 L306.2,882.0 L307.0,886.9 L307.8,879.9 L308.1,889.9 L308.6,886.2 L309.4,879.2 L310.2,888.7 L310.4,878.5 L311.0,876.7 L311.8,888.8 L312.6,875.2 L312.7,878.5 L313.4,897.6 L314.2,870.5 L314.5,912.7 L315.0,903.0 L315.8,863.4 L315.8,844.3 L316.6,899.8 L316.8,914.9 L317.4,872.5 L318.1,843.2 L318.2,903.6 L319.0,864.3 L319.5,896.7 L319.8,908.7 L320.4,858.0 L320.6,862.5 L321.4,906.0 L321.8,905.8 L322.2,858.3 L323.0,899.3 L323.1,871.6 L323.8,866.3 L324.5,855.7 L324.6,903.5 L325.4,864.4 L325.4,926.3 L326.2,908.4 L326.3,791.9 L327.0,853.2 L327.2,958.2 L327.8,898.6 L328.2,846.6 L328.6,859.9 L329.4,907.6 L329.5,887.6 L330.2,862.3 L330.9,846.6 L331.0,907.0 L331.8,917.2 L331.8,862.4 L332.6,903.3 L333.4,874.0 L334.1,873.9 L334.2,893.0 L335.0,877.6 L335.8,896.1 L336.4,899.0 L336.6,873.4 L337.4,885.6 L337.7,887.6 L338.2,877.4 L339.0,888.3 L339.8,875.6 L340.6,889.1 L340.9,880.8 L341.4,872.0 L342.2,892.7 L342.7,864.8 L343.0,875.1 L343.8,903.3 L344.1,905.8 L344.6,875.7 L345.4,907.6 L345.5,869.4 L346.2,866.4 L346.8,924.0 L347.0,906.3 L347.7,842.0 L347.8,856.0 L348.6,900.8 L349.1,864.8 L349.4,863.0 L350.2,900.8 L350.5,908.1 L351.0,869.5 L351.8,902.8 L352.3,862.5 L352.6,870.6 L353.4,907.7 L354.2,861.9 L354.6,892.1 L355.0,900.4 L355.3,867.1 L355.8,860.7 L356.6,899.9 L356.6,838.6 L357.4,865.2 L357.6,935.4 L358.2,903.0 L358.5,851.1 L359.0,871.6 L359.8,888.2 L359.8,896.7 L360.6,866.6 L361.2,867.1 L361.4,901.3 L362.2,875.2 L363.0,892.6 L363.0,903.5 L363.8,870.3 L364.4,924.0 L364.6,898.0 L365.3,851.1 L365.4,866.3 L366.2,900.6 L366.7,896.7 L367.0,867.7 L367.8,893.4 L368.0,869.4 L368.6,870.3 L369.4,893.7 L369.4,903.5 L370.2,875.5 L370.8,867.1 L371.0,887.2 L371.8,878.6 L372.6,886.9 L373.4,881.8 L374.2,884.8 L375.0,881.6 L375.8,887.4 L376.6,876.9 L377.2,887.6 L377.4,889.5 L378.1,862.5 L378.2,872.7 L379.0,912.7 L379.0,893.3 L379.8,870.3 L380.3,873.9 L380.6,898.3 L381.4,871.6 L381.7,905.8 L382.2,898.0 L382.6,855.7 L383.0,872.3 L383.5,848.9 L383.8,901.8 L384.4,910.4 L384.6,866.1 L385.4,893.8 L385.8,867.1 L386.2,870.3 L387.0,893.8 L387.2,853.4 L387.8,871.5 L388.5,912.7 L388.6,897.6 L389.4,861.6 L389.5,864.8 L390.2,900.6 L390.8,914.9 L391.0,869.7 L391.7,839.7 L391.8,900.2 L392.6,870.6 L393.1,910.4 L393.4,905.3 L394.2,876.8 L394.5,864.8 L395.0,898.6 L395.4,839.7 L395.8,871.0 L396.3,922.9 L396.6,894.5 L397.4,868.1 L397.7,858.0 L398.2,893.5 L399.0,873.6 L399.0,901.3 L399.8,889.7 L400.4,887.6 L400.6,871.2 L401.4,893.2 L401.8,862.5 L402.2,874.7 L403.0,889.6 L403.1,901.3 L403.8,881.8 L404.6,887.8 L405.4,878.4 L406.2,887.0 L407.0,880.7 L407.8,885.6 L408.6,881.8 L409.4,886.6 L410.0,887.6 L410.2,879.5 L411.0,888.6 L411.8,877.6 L412.6,893.6 L412.7,889.9 L413.4,874.6 L414.2,897.4 L414.5,873.9 L415.0,875.6 L415.8,897.7 L416.3,860.3 L416.6,868.2 L417.4,904.6 L418.2,914.9 L418.2,867.1 L419.0,905.0 L419.1,842.0 L419.8,873.3 L420.0,921.8 L420.6,903.1 L420.9,858.0 L421.4,858.0 L422.2,897.1 L422.3,908.1 L423.0,863.2 L423.6,858.0 L423.8,900.4 L424.6,869.9 L425.4,897.0 L425.5,917.2 L426.2,859.2 L426.8,846.6 L427.0,908.7 L427.7,926.3 L427.8,865.3 L428.6,904.8 L429.1,838.6 L429.4,861.4 L430.0,919.5 L430.2,905.0 L431.0,861.2 L431.4,867.1 L431.8,906.3 L432.6,867.2 L433.2,892.1 L433.4,901.6 L434.2,867.9 L435.0,894.9 L435.0,905.8 L435.8,870.8 L436.4,855.7 L436.6,895.8 L437.4,872.8 L437.8,910.4 L438.2,892.2 L439.0,876.1 L439.6,887.6 L439.8,889.8 L440.6,878.0 L441.4,886.2 L442.2,876.3 L443.0,890.9 L443.8,874.6 L444.6,889.9 L444.8,873.9 L445.4,875.4 L446.2,890.2 L446.2,894.4 L447.0,878.4 L447.8,892.8 L448.0,887.6 L448.6,871.0 L449.4,894.7 L449.8,871.6 L450.2,871.2 L451.0,896.8 L451.7,887.6 L451.8,869.7 L452.6,893.5 L453.0,867.1 L453.4,867.0 L454.2,897.6 L454.4,921.8 L455.0,864.7 L455.3,853.4 L455.8,896.9 L456.2,846.6 L456.6,874.3 L457.4,902.5 L457.6,908.1 L458.2,874.2 L458.5,862.5 L459.0,903.8 L459.8,869.2 L459.9,896.7 L460.6,899.8 L460.8,844.3 L461.4,876.9 L461.7,945.7 L462.2,896.2 L462.6,846.6 L463.0,869.6 L463.8,890.1 L464.0,896.7 L464.6,871.6 L465.3,869.4 L465.4,889.5 L466.2,874.6 L467.0,892.0 L467.2,887.6 L467.8,872.4 L468.6,888.7 L469.0,878.5 L469.4,877.1 L469.9,918.4 L470.2,892.1 L470.8,855.7 L471.0,875.1 L471.8,889.2 L472.2,896.7 L472.6,878.4 L473.4,888.6 L473.5,878.5 L474.2,878.9 L475.0,886.5 L475.8,878.9 L476.6,886.1 L477.4,878.4 L478.2,888.7 L479.0,876.5 L479.5,889.9 L479.8,890.5 L480.6,874.5 L480.8,871.6 L481.4,893.0 L481.7,896.7 L482.2,871.1 L483.0,891.7 L483.6,880.8 L483.8,874.8 L484.6,898.9 L485.4,860.3 L485.4,873.1 L486.2,893.8 L486.8,850.0 L487.0,865.3 L487.7,919.5 L487.8,902.8 L488.6,863.8 L489.0,851.1 L489.4,899.2 L489.9,905.8 L490.2,868.5 L491.0,904.0 L491.3,855.7 L491.8,863.3 L492.6,902.5 L492.7,903.5 L493.4,878.4 L494.2,895.0 L494.5,845.4 L495.0,878.5 L495.4,936.6 L495.8,901.9 L496.3,860.3 L496.6,871.8 L497.4,892.6 L497.7,853.4 L498.2,869.1 L499.0,892.1 L499.1,901.3 L499.8,870.9 L500.4,869.4 L500.6,896.9 L501.4,870.5 L501.8,899.0 L502.2,890.6 L503.0,872.0 L503.2,864.8 L503.8,890.7 L504.5,887.6 L504.6,875.4 L505.4,888.9 L506.2,875.2 L507.0,887.6 L507.8,877.6 L508.6,887.4 L509.4,879.3 L510.2,884.6 L511.0,880.8 L511.8,887.6 L512.6,877.9 L512.7,873.9 L513.4,887.6 L514.1,899.0 L514.2,879.5 L515.0,891.0 L515.5,873.9 L515.8,871.2 L516.6,886.9 L517.3,896.7 L517.4,877.9 L518.2,896.7 L518.7,864.8 L519.0,867.0 L519.6,913.8 L519.8,896.2 L520.5,854.6 L520.6,867.9 L521.4,894.1 L521.8,896.7 L522.2,871.7 L523.0,896.2 L523.2,878.5 L523.8,873.5 L524.6,864.8 L524.6,894.7 L525.4,873.9 L525.7,899.0 L526.2,900.4 L526.6,910.4 L527.0,867.7 L527.6,862.5 L527.8,890.7 L528.6,873.6 L528.9,896.7 L529.4,897.8 L529.8,846.6 L530.2,872.2 L530.7,905.8 L531.0,892.6 L531.8,878.9 L532.1,864.8 L532.6,895.9 L533.4,871.6 L533.5,896.7 L534.2,895.2 L534.4,887.6 L535.0,876.5 L535.8,856.8 L535.8,893.2 L536.6,873.4 L536.7,914.9 L537.4,891.8 L538.0,873.9 L538.2,875.4 L539.0,888.7 L539.4,887.6 L539.8,880.7 L540.6,888.0 L541.4,881.6 L542.2,885.2 L543.0,879.3 L543.8,885.6 L544.6,878.2 L544.9,885.3 L545.4,889.9 L545.8,908.1 L546.2,878.6 L547.0,891.4 L547.2,880.8 L547.8,873.1 L548.5,887.6 L548.6,886.5 L549.4,874.4 L549.9,871.6 L550.2,894.2 L551.0,870.9 L551.3,903.5 L551.8,892.3 L552.6,868.8 L552.6,859.1 L553.4,893.9 L554.0,894.4 L554.2,874.3 L555.0,895.3 L555.4,864.8 L555.8,869.3 L556.6,899.2 L556.7,876.2 L557.4,867.3 L558.2,891.0 L558.5,860.3 L559.0,866.6 L559.5,912.7 L559.8,897.1 L560.6,865.0 L560.8,853.4 L561.4,889.9 L562.2,887.6 L562.2,865.4 L563.0,901.8 L563.6,869.4 L563.8,876.4 L564.6,887.6 L564.9,908.1 L565.4,864.9 L565.8,927.5 L566.2,900.3 L566.7,838.6 L567.0,873.7 L567.7,846.6 L567.8,898.8 L568.6,896.7 L568.6,871.9 L569.4,894.5 L570.2,872.7 L570.8,887.6 L571.0,891.6 L571.8,871.8 L572.2,873.9 L572.6,892.1 L573.4,873.4 L573.6,853.4 L574.2,890.7 L575.0,875.1 L575.8,888.8 L575.9,892.1 L576.6,878.2 L577.4,887.5 L578.2,882.0 L579.0,890.4 L579.8,878.1 L580.6,894.4 L581.3,864.8 L581.4,878.5 L582.2,896.5 L582.7,896.7 L583.0,868.3 L583.6,873.9 L583.8,896.8 L584.5,853.4 L584.6,875.1 L585.4,900.6 L585.4,999.2 L586.2,869.8 L586.3,905.8 L587.0,896.4 L587.7,860.3 L587.8,865.1 L588.6,905.1 L588.6,853.4 L589.4,874.4 L590.0,892.1 L590.2,900.3 L591.0,863.4 L591.4,862.5 L591.8,897.7 L592.6,860.7 L592.7,850.0 L593.4,902.3 L593.6,887.6 L594.2,874.0 L595.0,851.1 L595.0,894.2 L595.8,872.6 L596.4,924.0 L596.6,897.9 L597.4,863.3 L597.7,862.5 L598.2,890.8 L599.0,872.7 L599.1,901.3 L599.8,893.3 L600.5,867.1 L600.6,868.3 L601.4,895.5 L601.8,905.8 L602.2,869.7 L603.0,890.4 L603.2,860.3 L603.8,867.5 L604.6,887.6 L604.6,894.8 L605.4,868.9 L605.5,828.4 L606.2,887.1 L606.4,896.7 L607.0,873.1 L607.8,878.5 L607.8,891.2 L608.6,873.8 L609.4,890.1 L610.2,878.7 L611.0,886.2 L611.8,877.1 L612.6,890.4 L613.4,875.2 L614.2,892.4 L615.0,874.4 L615.8,890.6 L616.6,875.9 L617.4,894.8 L618.0,862.5 L618.2,871.2 L618.9,910.4 L619.0,893.9 L619.8,870.9 L620.3,867.1 L620.6,894.0 L621.4,868.8 L621.7,905.8 L622.2,896.5 L623.0,873.7 L623.0,878.5 L623.8,895.7 L624.4,896.7 L624.6,869.2 L625.4,892.7 L625.8,842.0 L626.2,865.6 L626.7,924.0 L627.0,899.6 L627.8,873.9 L628.1,867.1 L628.6,893.5 L629.4,881.0 L629.4,905.8 L630.2,900.5 L630.8,869.4 L631.0,873.3 L631.8,899.8 L632.2,854.6 L632.6,868.9 L633.1,917.2 L633.4,889.5 L634.2,873.4 L634.4,867.1 L635.0,892.8 L635.8,855.7 L635.8,869.1 L636.6,893.8 L636.7,905.8 L637.4,875.3 L638.1,869.4 L638.2,897.4 L639.0,872.1 L639.8,888.0 L639.9,887.6 L640.6,871.2 L641.3,862.5 L641.4,892.7 L642.2,875.4 L642.6,896.7 L643.0,887.8 L643.8,875.7 L644.6,886.3 L645.4,876.6 L646.2,888.2 L647.0,878.2 L647.8,888.8 L648.6,876.2 L649.4,889.2 L650.2,874.7 L651.0,887.6 L651.8,873.5 L652.6,893.6 L652.7,867.1 L653.4,875.7 L654.0,903.5 L654.2,889.3 L655.0,869.1 L655.4,871.6 L655.8,897.7 L656.6,876.0 L656.8,899.0 L657.4,895.8 L658.1,869.4 L658.2,874.6 L659.0,892.4 L659.8,866.3 L660.4,903.5 L660.6,898.7 L661.4,865.8 L661.8,864.8 L662.2,895.8 L662.7,831.8 L663.0,864.4 L663.6,943.4 L663.8,901.9 L664.5,862.5 L664.6,869.2 L665.4,901.1 L665.9,908.1 L666.2,870.8 L667.0,902.3 L667.2,842.0 L667.8,872.5 L668.2,928.6 L668.6,899.4 L669.1,838.6 L669.4,865.9 L670.0,929.7 L670.2,899.4 L671.0,869.5 L671.3,846.6 L671.8,890.1 L672.6,870.4 L672.7,896.7 L673.4,892.9 L674.1,867.1 L674.2,873.2 L675.0,892.0 L675.8,875.0 L676.6,889.0 L677.4,877.1 L678.2,885.5 L679.0,881.3 L679.8,887.7 L680.6,878.6 L681.4,888.9 L682.2,878.2 L683.0,890.2 L683.3,887.6 L683.8,873.0 L684.6,893.7 L684.6,878.5 L685.4,869.3 L686.0,896.7 L686.2,894.8 L687.0,866.1 L687.4,869.4 L687.8,900.9 L688.6,864.0 L688.7,860.3 L689.4,898.0 L689.6,914.9 L690.2,862.2 L691.0,855.7 L691.0,897.9 L691.8,863.6 L692.4,848.9 L692.6,907.1 L693.3,908.1 L693.4,861.5 L694.2,904.7 L694.6,853.4 L695.0,865.3 L695.8,905.2 L696.0,927.5 L696.6,863.8 L696.9,837.5 L697.4,906.2 L697.8,924.0 L698.2,864.6 L699.0,899.3 L699.2,851.1 L699.8,871.3 L700.6,899.0 L700.6,903.3 L701.4,866.6 L701.9,869.4 L702.2,893.1 L703.0,870.9 L703.3,858.0 L703.8,897.5 L704.2,847.7 L704.6,873.4 L705.1,933.2 L705.4,897.5 L706.2,871.7 L706.5,867.1 L707.0,894.6 L707.8,872.8 L707.9,892.1 L708.6,888.4 L709.4,874.9 L709.7,878.5 L710.2,889.7 L711.0,879.9 L711.8,887.4 L712.6,878.4 L713.3,887.6 L713.4,887.5 L714.2,877.6 L714.7,871.6 L715.0,888.9 L715.8,873.5 L716.1,896.7 L716.6,892.6 L717.4,876.9 L717.4,867.1 L718.2,891.8 L718.8,901.3 L719.0,875.0 L719.8,897.0 L720.2,860.3 L720.6,868.9 L721.1,910.4 L721.4,896.2 L722.2,867.5 L722.4,878.5 L723.0,900.1 L723.4,903.5 L723.8,870.8 L724.6,891.0 L724.7,853.4 L725.4,860.6 L725.6,910.4 L726.2,896.1 L727.0,858.0 L727.0,868.1 L727.8,905.5 L727.9,905.8 L728.6,867.9 L728.3,830.6 L728.3,917.2" fill="none" stroke="#b01c1c" stroke-width="2.0" stroke-linejoin="miter" stroke-miterlimit="2"/><path d="M187.7,969.6 L187.7,942.3 L187.7,818.1 L187.8,867.9 L188.5,864.8 L188.6,902.0 L189.4,861.2 L189.8,919.5 L190.2,894.6 L191.0,862.8 L191.2,860.3 L191.8,905.9 L192.1,813.5 L192.6,870.0 L193.0,944.6 L193.4,890.2 L194.2,872.7 L194.4,864.8 L195.0,895.1 L195.8,873.1 L196.2,887.6 L196.6,888.4 L197.4,876.6 L197.6,867.1 L198.2,888.9 L198.9,878.5 L199.0,879.3 L199.8,886.6 L200.6,879.8 L201.4,885.4 L202.2,880.4 L203.0,885.6 L203.8,879.1 L204.6,889.0 L204.9,892.1 L205.4,874.1 L206.2,892.8 L206.2,896.7 L207.0,875.3 L207.2,905.8 L207.8,895.2 L208.1,862.5 L208.6,873.3 L209.4,895.6 L209.4,896.7 L210.2,877.7 L211.0,890.5 L211.3,887.6 L211.8,876.2 L212.6,897.6 L212.6,867.1 L213.4,871.1 L214.0,887.6 L214.2,899.1 L215.0,869.9 L215.4,910.4 L215.8,897.0 L216.6,869.5 L216.7,846.6 L217.4,900.1 L217.6,919.5 L218.2,864.9 L218.5,844.3 L219.0,898.4 L219.5,921.8 L219.8,863.0 L220.6,901.3 L220.8,858.0 L221.4,861.9 L222.2,905.8 L222.2,901.0 L223.0,861.6 L223.6,867.1 L223.8,898.5 L224.5,820.4 L224.6,863.1 L225.4,935.4 L225.4,895.2 L226.2,872.1 L226.3,860.3 L227.0,888.3 L227.8,865.7 L228.1,892.1 L228.6,894.5 L229.4,867.7 L229.9,867.1 L230.2,895.7 L231.0,874.1 L231.3,887.6 L231.8,893.6 L232.6,875.7 L232.7,901.3 L233.4,889.4 L234.2,879.2 L235.0,885.0 L235.8,881.4 L236.6,885.2 L237.4,879.0 L238.2,886.2 L239.0,880.6 L239.0,869.4 L239.8,894.5 L240.6,876.9 L240.9,899.0 L241.4,896.5 L242.2,869.3 L242.7,869.4 L243.0,901.8 L243.8,867.8 L244.5,896.7 L244.6,907.9 L245.4,862.8 L246.2,907.3 L246.8,862.5 L247.0,861.2 L247.8,909.2 L248.2,842.0 L248.6,853.6 L249.1,924.0 L249.4,905.6 L250.0,828.4 L250.2,856.2 L250.9,823.8 L251.0,916.0 L251.8,875.8 L251.8,949.1 L252.6,908.9 L252.7,846.6 L253.4,855.1 L254.1,928.6 L254.2,914.6 L255.0,879.3 L255.5,855.7 L255.8,903.8 L256.4,838.6 L256.6,880.1 L257.3,917.2 L257.4,908.5 L258.2,874.7 L258.6,853.4 L259.0,893.1 L259.8,866.1 L260.0,910.4 L260.6,898.5 L261.4,851.1 L261.4,873.9 L262.2,889.6 L263.0,874.3 L263.2,864.8 L263.8,893.2 L264.1,896.7 L264.6,874.6 L265.4,885.9 L265.5,864.8 L266.2,878.7 L267.0,887.9 L267.3,867.1 L267.8,877.7 L268.6,887.1 L268.7,887.6 L269.4,878.6 L270.2,887.8 L271.0,874.8 L271.8,892.3 L272.6,879.2 L273.4,888.8 L274.2,873.1 L274.8,871.6 L275.0,892.5 L275.7,896.7 L275.8,877.8 L276.6,889.7 L277.1,869.4 L277.4,873.1 L278.2,895.2 L278.9,889.9 L279.0,868.7 L279.8,898.0 L280.6,867.7 L280.8,871.6 L281.4,889.3 L282.2,864.1 L282.6,908.1 L283.0,901.9 L283.5,844.3 L283.8,874.0 L284.4,926.3 L284.6,899.7 L285.4,862.3 L285.8,846.6 L286.2,903.3 L287.0,865.3 L287.1,914.9 L287.8,905.7 L288.1,930.9 L288.6,864.3 L289.0,850.0 L289.4,897.6 L290.2,871.2 L290.8,887.6 L291.0,890.3 L291.8,874.0 L292.6,889.9 L293.1,873.9 L293.4,875.3 L294.2,885.8 L294.9,896.7 L295.0,874.7 L295.8,891.0 L296.3,908.1 L296.6,874.5 L297.2,862.5 L297.4,890.4 L298.2,875.4 L298.5,892.1 L299.0,890.6 L299.8,880.1 L299.9,887.6 L300.6,885.3 L301.3,864.8 L301.4,877.2 L302.2,889.7 L303.0,880.7 L303.5,887.6 L303.8,886.9 L304.6,880.2 L305.4,887.3 L306.2,882.0 L307.0,886.9 L307.8,879.9 L308.1,889.9 L308.6,886.2 L309.4,879.2 L310.2,888.7 L310.4,878.5 L311.0,876.7 L311.8,888.8 L312.6,875.2 L312.7,878.5 L313.4,897.6 L314.2,870.5 L314.5,912.7 L315.0,903.0 L315.8,863.4 L315.8,844.3 L316.6,899.8 L316.8,914.9 L317.4,872.5 L318.1,843.2 L318.2,903.6 L319.0,864.3 L319.5,896.7 L319.8,908.7 L320.4,858.0 L320.6,862.5 L321.4,906.0 L321.8,905.8 L322.2,858.3 L323.0,899.3 L323.1,871.6 L323.8,866.3 L324.5,855.7 L324.6,903.5 L325.4,864.4 L325.4,926.3 L326.2,908.4 L326.3,791.9 L327.0,853.2 L327.2,958.2 L327.8,898.6 L328.2,846.6 L328.6,859.9 L329.4,907.6 L329.5,887.6 L330.2,862.3 L330.9,846.6 L331.0,907.0 L331.8,917.2 L331.8,862.4 L332.6,903.3 L333.4,874.0 L334.1,873.9 L334.2,893.0 L335.0,877.6 L335.8,896.1 L336.4,899.0 L336.6,873.4 L337.4,885.6 L337.7,887.6 L338.2,877.4 L339.0,888.3 L339.8,875.6 L340.6,889.1 L340.9,880.8 L341.4,872.0 L342.2,892.7 L342.7,864.8 L343.0,875.1 L343.8,903.3 L344.1,905.8 L344.6,875.7 L345.4,907.6 L345.5,869.4 L346.2,866.4 L346.8,924.0 L347.0,906.3 L347.7,842.0 L347.8,856.0 L348.6,900.8 L349.1,864.8 L349.4,863.0 L350.2,900.8 L350.5,908.1 L351.0,869.5 L351.8,902.8 L352.3,862.5 L352.6,870.6 L353.4,907.7 L354.2,861.9 L354.6,892.1 L355.0,900.4 L355.3,867.1 L355.8,860.7 L356.6,899.9 L356.6,838.6 L357.4,865.2 L357.6,935.4 L358.2,903.0 L358.5,851.1 L359.0,871.6 L359.8,888.2 L359.8,896.7 L360.6,866.6 L361.2,867.1 L361.4,901.3 L362.2,875.2 L363.0,892.6 L363.0,903.5 L363.8,870.3 L364.4,924.0 L364.6,898.0 L365.3,851.1 L365.4,866.3 L366.2,900.6 L366.7,896.7 L367.0,867.7 L367.8,893.4 L368.0,869.4 L368.6,870.3 L369.4,893.7 L369.4,903.5 L370.2,875.5 L370.8,867.1 L371.0,887.2 L371.8,878.6 L372.6,886.9 L373.4,881.8 L374.2,884.8 L375.0,881.6 L375.8,887.4 L376.6,876.9 L377.2,887.6 L377.4,889.5 L378.1,862.5 L378.2,872.7 L379.0,912.7 L379.0,893.3 L379.8,870.3 L380.3,873.9 L380.6,898.3 L381.4,871.6 L381.7,905.8 L382.2,898.0 L382.6,855.7 L383.0,872.3 L383.5,848.9 L383.8,901.8 L384.4,910.4 L384.6,866.1 L385.4,893.8 L385.8,867.1 L386.2,870.3 L387.0,893.8 L387.2,853.4 L387.8,871.5 L388.5,912.7 L388.6,897.6 L389.4,861.6 L389.5,864.8 L390.2,900.6 L390.8,914.9 L391.0,869.7 L391.7,839.7 L391.8,900.2 L392.6,870.6 L393.1,910.4 L393.4,905.3 L394.2,876.8 L394.5,864.8 L395.0,898.6 L395.4,839.7 L395.8,871.0 L396.3,922.9 L396.6,894.5 L397.4,868.1 L397.7,858.0 L398.2,893.5 L399.0,873.6 L399.0,901.3 L399.8,889.7 L400.4,887.6 L400.6,871.2 L401.4,893.2 L401.8,862.5 L402.2,874.7 L403.0,889.6 L403.1,901.3 L403.8,881.8 L404.6,887.8 L405.4,878.4 L406.2,887.0 L407.0,880.7 L407.8,885.6 L408.6,881.8 L409.4,886.6 L410.0,887.6 L410.2,879.5 L411.0,888.6 L411.8,877.6 L412.6,893.6 L412.7,889.9 L413.4,874.6 L414.2,897.4 L414.5,873.9 L415.0,875.6 L415.8,897.7 L416.3,860.3 L416.6,868.2 L417.4,904.6 L418.2,914.9 L418.2,867.1 L419.0,905.0 L419.1,842.0 L419.8,873.3 L420.0,921.8 L420.6,903.1 L420.9,858.0 L421.4,858.0 L422.2,897.1 L422.3,908.1 L423.0,863.2 L423.6,858.0 L423.8,900.4 L424.6,869.9 L425.4,897.0 L425.5,917.2 L426.2,859.2 L426.8,846.6 L427.0,908.7 L427.7,926.3 L427.8,865.3 L428.6,904.8 L429.1,838.6 L429.4,861.4 L430.0,919.5 L430.2,905.0 L431.0,861.2 L431.4,867.1 L431.8,906.3 L432.6,867.2 L433.2,892.1 L433.4,901.6 L434.2,867.9 L435.0,894.9 L435.0,905.8 L435.8,870.8 L436.4,855.7 L436.6,895.8 L437.4,872.8 L437.8,910.4 L438.2,892.2 L439.0,876.1 L439.6,887.6 L439.8,889.8 L440.6,878.0 L441.4,886.2 L442.2,876.3 L443.0,890.9 L443.8,874.6 L444.6,889.9 L444.8,873.9 L445.4,875.4 L446.2,890.2 L446.2,894.4 L447.0,878.4 L447.8,892.8 L448.0,887.6 L448.6,871.0 L449.4,894.7 L449.8,871.6 L450.2,871.2 L451.0,896.8 L451.7,887.6 L451.8,869.7 L452.6,893.5 L453.0,867.1 L453.4,867.0 L454.2,897.6 L454.4,921.8 L455.0,864.7 L455.3,853.4 L455.8,896.9 L456.2,846.6 L456.6,874.3 L457.4,902.5 L457.6,908.1 L458.2,874.2 L458.5,862.5 L459.0,903.8 L459.8,869.2 L459.9,896.7 L460.6,899.8 L460.8,844.3 L461.4,876.9 L461.7,945.7 L462.2,896.2 L462.6,846.6 L463.0,869.6 L463.8,890.1 L464.0,896.7 L464.6,871.6 L465.3,869.4 L465.4,889.5 L466.2,874.6 L467.0,892.0 L467.2,887.6 L467.8,872.4 L468.6,888.7 L469.0,878.5 L469.4,877.1 L469.9,918.4 L470.2,892.1 L470.8,855.7 L471.0,875.1 L471.8,889.2 L472.2,896.7 L472.6,878.4 L473.4,888.6 L473.5,878.5 L474.2,878.9 L475.0,886.5 L475.8,878.9 L476.6,886.1 L477.4,878.4 L478.2,888.7 L479.0,876.5 L479.5,889.9 L479.8,890.5 L480.6,874.5 L480.8,871.6 L481.4,893.0 L481.7,896.7 L482.2,871.1 L483.0,891.7 L483.6,880.8 L483.8,874.8 L484.6,898.9 L485.4,860.3 L485.4,873.1 L486.2,893.8 L486.8,850.0 L487.0,865.3 L487.7,919.5 L487.8,902.8 L488.6,863.8 L489.0,851.1 L489.4,899.2 L489.9,905.8 L490.2,868.5 L491.0,904.0 L491.3,855.7 L491.8,863.3 L492.6,902.5 L492.7,903.5 L493.4,878.4 L494.2,895.0 L494.5,845.4 L495.0,878.5 L495.4,936.6 L495.8,901.9 L496.3,860.3 L496.6,871.8 L497.4,892.6 L497.7,853.4 L498.2,869.1 L499.0,892.1 L499.1,901.3 L499.8,870.9 L500.4,869.4 L500.6,896.9 L501.4,870.5 L501.8,899.0 L502.2,890.6 L503.0,872.0 L503.2,864.8 L503.8,890.7 L504.5,887.6 L504.6,875.4 L505.4,888.9 L506.2,875.2 L507.0,887.6 L507.8,877.6 L508.6,887.4 L509.4,879.3 L510.2,884.6 L511.0,880.8 L511.8,887.6 L512.6,877.9 L512.7,873.9 L513.4,887.6 L514.1,899.0 L514.2,879.5 L515.0,891.0 L515.5,873.9 L515.8,871.2 L516.6,886.9 L517.3,896.7 L517.4,877.9 L518.2,896.7 L518.7,864.8 L519.0,867.0 L519.6,913.8 L519.8,896.2 L520.5,854.6 L520.6,867.9 L521.4,894.1 L521.8,896.7 L522.2,871.7 L523.0,896.2 L523.2,878.5 L523.8,873.5 L524.6,864.8 L524.6,894.7 L525.4,873.9 L525.7,899.0 L526.2,900.4 L526.6,910.4 L527.0,867.7 L527.6,862.5 L527.8,890.7 L528.6,873.6 L528.9,896.7 L529.4,897.8 L529.8,846.6 L530.2,872.2 L530.7,905.8 L531.0,892.6 L531.8,878.9 L532.1,864.8 L532.6,895.9 L533.4,871.6 L533.5,896.7 L534.2,895.2 L534.4,887.6 L535.0,876.5 L535.8,856.8 L535.8,893.2 L536.6,873.4 L536.7,914.9 L537.4,891.8 L538.0,873.9 L538.2,875.4 L539.0,888.7 L539.4,887.6 L539.8,880.7 L540.6,888.0 L541.4,881.6 L542.2,885.2 L543.0,879.3 L543.8,885.6 L544.6,878.2 L544.9,885.3 L545.4,889.9 L545.8,908.1 L546.2,878.6 L547.0,891.4 L547.2,880.8 L547.8,873.1 L548.5,887.6 L548.6,886.5 L549.4,874.4 L549.9,871.6 L550.2,894.2 L551.0,870.9 L551.3,903.5 L551.8,892.3 L552.6,868.8 L552.6,859.1 L553.4,893.9 L554.0,894.4 L554.2,874.3 L555.0,895.3 L555.4,864.8 L555.8,869.3 L556.6,899.2 L556.7,876.2 L557.4,867.3 L558.2,891.0 L558.5,860.3 L559.0,866.6 L559.5,912.7 L559.8,897.1 L560.6,865.0 L560.8,853.4 L561.4,889.9 L562.2,887.6 L562.2,865.4 L563.0,901.8 L563.6,869.4 L563.8,876.4 L564.6,887.6 L564.9,908.1 L565.4,864.9 L565.8,927.5 L566.2,900.3 L566.7,838.6 L567.0,873.7 L567.7,846.6 L567.8,898.8 L568.6,896.7 L568.6,871.9 L569.4,894.5 L570.2,872.7 L570.8,887.6 L571.0,891.6 L571.8,871.8 L572.2,873.9 L572.6,892.1 L573.4,873.4 L573.6,853.4 L574.2,890.7 L575.0,875.1 L575.8,888.8 L575.9,892.1 L576.6,878.2 L577.4,887.5 L578.2,882.0 L579.0,890.4 L579.8,878.1 L580.6,894.4 L581.3,864.8 L581.4,878.5 L582.2,896.5 L582.7,896.7 L583.0,868.3 L583.6,873.9 L583.8,896.8 L584.5,853.4 L584.6,875.1 L585.4,900.6 L585.4,999.2 L586.2,869.8 L586.3,905.8 L587.0,896.4 L587.7,860.3 L587.8,865.1 L588.6,905.1 L588.6,853.4 L589.4,874.4 L590.0,892.1 L590.2,900.3 L591.0,863.4 L591.4,862.5 L591.8,897.7 L592.6,860.7 L592.7,850.0 L593.4,902.3 L593.6,887.6 L594.2,874.0 L595.0,851.1 L595.0,894.2 L595.8,872.6 L596.4,924.0 L596.6,897.9 L597.4,863.3 L597.7,862.5 L598.2,890.8 L599.0,872.7 L599.1,901.3 L599.8,893.3 L600.5,867.1 L600.6,868.3 L601.4,895.5 L601.8,905.8 L602.2,869.7 L603.0,890.4 L603.2,860.3 L603.8,867.5 L604.6,887.6 L604.6,894.8 L605.4,868.9 L605.5,828.4 L606.2,887.1 L606.4,896.7 L607.0,873.1 L607.8,878.5 L607.8,891.2 L608.6,873.8 L609.4,890.1 L610.2,878.7 L611.0,886.2 L611.8,877.1 L612.6,890.4 L613.4,875.2 L614.2,892.4 L615.0,874.4 L615.8,890.6 L616.6,875.9 L617.4,894.8 L618.0,862.5 L618.2,871.2 L618.9,910.4 L619.0,893.9 L619.8,870.9 L620.3,867.1 L620.6,894.0 L621.4,868.8 L621.7,905.8 L622.2,896.5 L623.0,873.7 L623.0,878.5 L623.8,895.7 L624.4,896.7 L624.6,869.2 L625.4,892.7 L625.8,842.0 L626.2,865.6 L626.7,924.0 L627.0,899.6 L627.8,873.9 L628.1,867.1 L628.6,893.5 L629.4,881.0 L629.4,905.8 L630.2,900.5 L630.8,869.4 L631.0,873.3 L631.8,899.8 L632.2,854.6 L632.6,868.9 L633.1,917.2 L633.4,889.5 L634.2,873.4 L634.4,867.1 L635.0,892.8 L635.8,855.7 L635.8,869.1 L636.6,893.8 L636.7,905.8 L637.4,875.3 L638.1,869.4 L638.2,897.4 L639.0,872.1 L639.8,888.0 L639.9,887.6 L640.6,871.2 L641.3,862.5 L641.4,892.7 L642.2,875.4 L642.6,896.7 L643.0,887.8 L643.8,875.7 L644.6,886.3 L645.4,876.6 L646.2,888.2 L647.0,878.2 L647.8,888.8 L648.6,876.2 L649.4,889.2 L650.2,874.7 L651.0,887.6 L651.8,873.5 L652.6,893.6 L652.7,867.1 L653.4,875.7 L654.0,903.5 L654.2,889.3 L655.0,869.1 L655.4,871.6 L655.8,897.7 L656.6,876.0 L656.8,899.0 L657.4,895.8 L658.1,869.4 L658.2,874.6 L659.0,892.4 L659.8,866.3 L660.4,903.5 L660.6,898.7 L661.4,865.8 L661.8,864.8 L662.2,895.8 L662.7,831.8 L663.0,864.4 L663.6,943.4 L663.8,901.9 L664.5,862.5 L664.6,869.2 L665.4,901.1 L665.9,908.1 L666.2,870.8 L667.0,902.3 L667.2,842.0 L667.8,872.5 L668.2,928.6 L668.6,899.4 L669.1,838.6 L669.4,865.9 L670.0,929.7 L670.2,899.4 L671.0,869.5 L671.3,846.6 L671.8,890.1 L672.6,870.4 L672.7,896.7 L673.4,892.9 L674.1,867.1 L674.2,873.2 L675.0,892.0 L675.8,875.0 L676.6,889.0 L677.4,877.1 L678.2,885.5 L679.0,881.3 L679.8,887.7 L680.6,878.6 L681.4,888.9 L682.2,878.2 L683.0,890.2 L683.3,887.6 L683.8,873.0 L684.6,893.7 L684.6,878.5 L685.4,869.3 L686.0,896.7 L686.2,894.8 L687.0,866.1 L687.4,869.4 L687.8,900.9 L688.6,864.0 L688.7,860.3 L689.4,898.0 L689.6,914.9 L690.2,862.2 L691.0,855.7 L691.0,897.9 L691.8,863.6 L692.4,848.9 L692.6,907.1 L693.3,908.1 L693.4,861.5 L694.2,904.7 L694.6,853.4 L695.0,865.3 L695.8,905.2 L696.0,927.5 L696.6,863.8 L696.9,837.5 L697.4,906.2 L697.8,924.0 L698.2,864.6 L699.0,899.3 L699.2,851.1 L699.8,871.3 L700.6,899.0 L700.6,903.3 L701.4,866.6 L701.9,869.4 L702.2,893.1 L703.0,870.9 L703.3,858.0 L703.8,897.5 L704.2,847.7 L704.6,873.4 L705.1,933.2 L705.4,897.5 L706.2,871.7 L706.5,867.1 L707.0,894.6 L707.8,872.8 L707.9,892.1 L708.6,888.4 L709.4,874.9 L709.7,878.5 L710.2,889.7 L711.0,879.9 L711.8,887.4 L712.6,878.4 L713.3,887.6 L713.4,887.5 L714.2,877.6 L714.7,871.6 L715.0,888.9 L715.8,873.5 L716.1,896.7 L716.6,892.6 L717.4,876.9 L717.4,867.1 L718.2,891.8 L718.8,901.3 L719.0,875.0 L719.8,897.0 L720.2,860.3 L720.6,868.9 L721.1,910.4 L721.4,896.2 L722.2,867.5 L722.4,878.5 L723.0,900.1 L723.4,903.5 L723.8,870.8 L724.6,891.0 L724.7,853.4 L725.4,860.6 L725.6,910.4 L726.2,896.1 L727.0,858.0 L727.0,868.1 L727.8,905.5 L727.9,905.8 L728.6,867.9 L728.3,830.6 L728.3,917.2" fill="none" stroke="#ee1414" stroke-width="1.0" stroke-linejoin="miter" stroke-miterlimit="2"/>
<line x1="183.2" y1="1002.5" x2="187.2" y2="1002.5" stroke="#222" stroke-width="1.2"/>
<line x1="183.2" y1="982.5" x2="187.2" y2="982.5" stroke="#222" stroke-width="1.2"/>
<line x1="183.2" y1="962.5" x2="187.2" y2="962.5" stroke="#222" stroke-width="1.2"/>
<line x1="183.2" y1="942.5" x2="187.2" y2="942.5" stroke="#222" stroke-width="1.2"/>
<line x1="183.2" y1="922.5" x2="187.2" y2="922.5" stroke="#222" stroke-width="1.2"/>
<line x1="183.2" y1="902.5" x2="187.2" y2="902.5" stroke="#222" stroke-width="1.2"/>
<line x1="183.2" y1="882.5" x2="187.2" y2="882.5" stroke="#222" stroke-width="1.2"/>
<line x1="183.2" y1="863.5" x2="187.2" y2="863.5" stroke="#222" stroke-width="1.2"/>
<line x1="183.2" y1="843.5" x2="187.2" y2="843.5" stroke="#222" stroke-width="1.2"/>
<line x1="183.2" y1="823.5" x2="187.2" y2="823.5" stroke="#222" stroke-width="1.2"/>
<line x1="183.2" y1="803.5" x2="187.2" y2="803.5" stroke="#222" stroke-width="1.2"/>
<line x1="183.2" y1="783.5" x2="187.2" y2="783.5" stroke="#222" stroke-width="1.2"/>
<line x1="183.2" y1="763.5" x2="187.2" y2="763.5" stroke="#222" stroke-width="1.2"/>
<line x1="187.5" y1="1002.5" x2="187.5" y2="1006.0" stroke="#222" stroke-width="1.2"/>
<line x1="241.5" y1="1002.5" x2="241.5" y2="1006.0" stroke="#222" stroke-width="1.2"/>
<line x1="295.5" y1="1002.5" x2="295.5" y2="1006.0" stroke="#222" stroke-width="1.2"/>
<line x1="349.5" y1="1002.5" x2="349.5" y2="1006.0" stroke="#222" stroke-width="1.2"/>
<line x1="404.5" y1="1002.5" x2="404.5" y2="1006.0" stroke="#222" stroke-width="1.2"/>
<line x1="458.5" y1="1002.5" x2="458.5" y2="1006.0" stroke="#222" stroke-width="1.2"/>
<line x1="512.5" y1="1002.5" x2="512.5" y2="1006.0" stroke="#222" stroke-width="1.2"/>
<line x1="566.5" y1="1002.5" x2="566.5" y2="1006.0" stroke="#222" stroke-width="1.2"/>
<line x1="621.5" y1="1002.5" x2="621.5" y2="1006.0" stroke="#222" stroke-width="1.2"/>
<line x1="675.5" y1="1002.5" x2="675.5" y2="1006.0" stroke="#222" stroke-width="1.2"/>
<line x1="729.5" y1="1002.5" x2="729.5" y2="1006.0" stroke="#222" stroke-width="1.2"/>
<path d="M187.2,1002.5 H729.5 V763.5 H187.2" fill="none" stroke="#1a1a1a" stroke-width="1.5"/>
<line x1="187.2" y1="762.75" x2="187.2" y2="1003.25" stroke="#777" stroke-width="1.1"/>
<rect x="197.8" y="771.4" width="133.59999999999997" height="15.800000000000068" rx="0.8" fill="#fff" stroke="#333" stroke-width="1.2"/>
<line x1="204.3" y1="780" x2="224.3" y2="780" stroke="#8b2020" stroke-width="2.2"/>
<text x="224.3" y="784" font-size="9.7" textLength="104" lengthAdjust="spacingAndGlyphs" fill="#8e2c2c" font-family="'Liberation Sans', Arial, sans-serif">SCALE(.plot_1.curve_1)</text>
<text x="180.5" y="1006.00" font-size="9.8" text-anchor="end" fill="#111" font-family="'Liberation Sans', Arial, sans-serif">-0.03</text>
<text x="180.5" y="966.17" font-size="9.8" text-anchor="end" fill="#111" font-family="'Liberation Sans', Arial, sans-serif">-0.02</text>
<text x="180.5" y="926.33" font-size="9.8" text-anchor="end" fill="#111" font-family="'Liberation Sans', Arial, sans-serif">-0.01</text>
<text x="180.5" y="886.50" font-size="9.8" text-anchor="end" fill="#111" font-family="'Liberation Sans', Arial, sans-serif">0.0</text>
<text x="180.5" y="846.67" font-size="9.8" text-anchor="end" fill="#111" font-family="'Liberation Sans', Arial, sans-serif">0.01</text>
<text x="180.5" y="806.83" font-size="9.8" text-anchor="end" fill="#111" font-family="'Liberation Sans', Arial, sans-serif">0.02</text>
<text x="180.5" y="767.00" font-size="9.8" text-anchor="end" fill="#111" font-family="'Liberation Sans', Arial, sans-serif">0.03</text>
<text x="187.20" y="1016.6" font-size="9.8" text-anchor="middle" fill="#111" font-family="'Liberation Sans', Arial, sans-serif">0.0</text>
<text x="241.43" y="1016.6" font-size="9.8" text-anchor="middle" fill="#111" font-family="'Liberation Sans', Arial, sans-serif">1.0</text>
<text x="295.66" y="1016.6" font-size="9.8" text-anchor="middle" fill="#111" font-family="'Liberation Sans', Arial, sans-serif">2.0</text>
<text x="349.89" y="1016.6" font-size="9.8" text-anchor="middle" fill="#111" font-family="'Liberation Sans', Arial, sans-serif">3.0</text>
<text x="404.12" y="1016.6" font-size="9.8" text-anchor="middle" fill="#111" font-family="'Liberation Sans', Arial, sans-serif">4.0</text>
<text x="458.35" y="1016.6" font-size="9.8" text-anchor="middle" fill="#111" font-family="'Liberation Sans', Arial, sans-serif">5.0</text>
<text x="512.58" y="1016.6" font-size="9.8" text-anchor="middle" fill="#111" font-family="'Liberation Sans', Arial, sans-serif">6.0</text>
<text x="566.81" y="1016.6" font-size="9.8" text-anchor="middle" fill="#111" font-family="'Liberation Sans', Arial, sans-serif">7.0</text>
<text x="621.04" y="1016.6" font-size="9.8" text-anchor="middle" fill="#111" font-family="'Liberation Sans', Arial, sans-serif">8.0</text>
<text x="675.27" y="1016.6" font-size="9.8" text-anchor="middle" fill="#111" font-family="'Liberation Sans', Arial, sans-serif">9.0</text>
<text x="729.50" y="1016.6" font-size="9.8" text-anchor="middle" fill="#111" font-family="'Liberation Sans', Arial, sans-serif">10.0</text>
<text x="458.3" y="758.3" font-size="10" text-anchor="middle" fill="#111" font-family="'Liberation Sans', Arial, sans-serif" >MODEL_2</text>
<text x="144.4" y="1030" font-size="10" text-anchor="start" fill="#111" font-family="'Liberation Sans', Arial, sans-serif" >Analysis: Last_Run</text>
<text x="458" y="1030" font-size="10" text-anchor="middle" fill="#111" font-family="'Liberation Sans', Arial, sans-serif" >Time (sec)</text>
<text x="684.1" y="1030" font-size="9.8" text-anchor="start" fill="#111" font-family="'Liberation Sans', Arial, sans-serif" textLength="90.8" lengthAdjust="spacingAndGlyphs">2018-04-24 10:22:52</text>
<text x="0" y="0" font-size="9.8" text-anchor="middle" fill="#111" font-family="'Liberation Sans', Arial, sans-serif" transform="translate(147.6,883.4) rotate(-90)" textLength="177" lengthAdjust="spacingAndGlyphs">Angular Acceleration (revolutions/sec**2)</text>
<text x="356.2" y="328.0" font-size="21.1" fill="#000" font-family="'Liberation Serif', 'Times New Roman', serif">(a) The angle of ring die</text>
<text x="310.5" y="674.0" font-size="20.9" fill="#000" font-family="'Liberation Serif', 'Times New Roman', serif">(b) The angular velocity of ring die</text>
<text x="295" y="1058.6" font-size="20.9" fill="#000" font-family="'Liberation Serif', 'Times New Roman', serif">(c) The angular acceleration of ring die</text>
</svg>
</body></html>
